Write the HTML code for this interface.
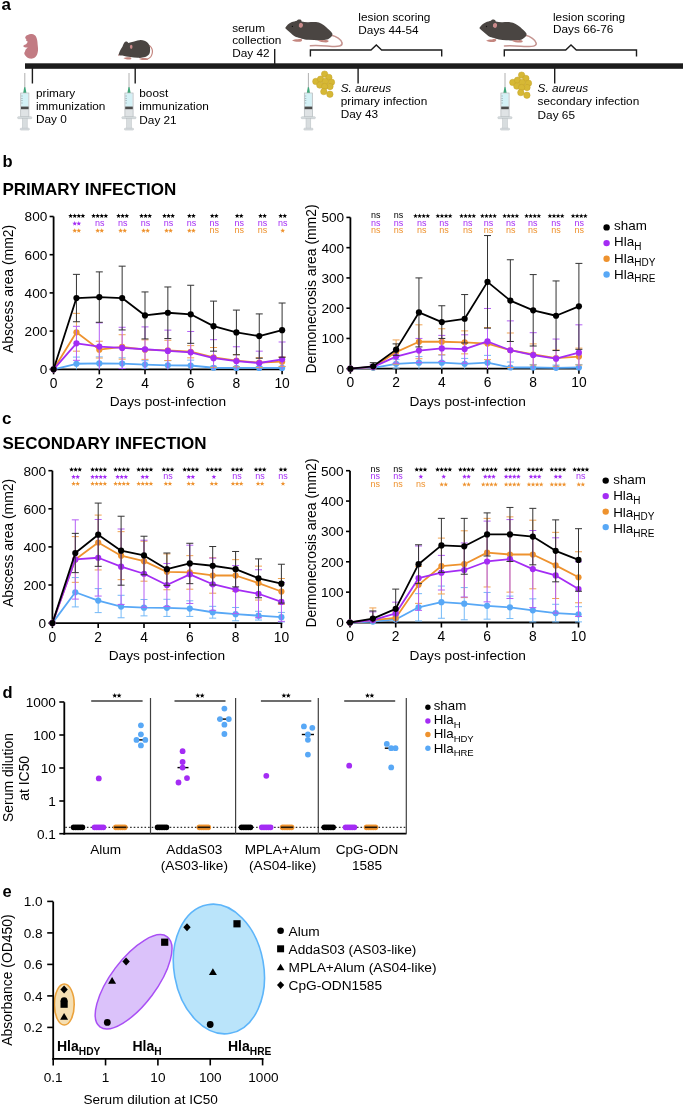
<!DOCTYPE html>
<html><head><meta charset="utf-8"><style>
html,body{margin:0;padding:0;background:#fff;}
body{width:685px;height:1106px;overflow:hidden;}
svg{display:block;font-family:"Liberation Sans", sans-serif;will-change:transform;}
</style></head><body>
<svg width="685" height="1106" viewBox="0 0 685 1106">
<rect width="685" height="1106" fill="#fff"/>
<text x="1.60" y="10.30" font-size="17" text-anchor="start" font-weight="bold" fill="#000" >a</text>
<rect x="25" y="63.3" width="658" height="5.5" fill="#1c1c1c"/>
<line x1="32.40" y1="68.00" x2="32.40" y2="83.50" stroke="#1c1c1c" stroke-width="1.4" />
<line x1="135.20" y1="68.00" x2="135.20" y2="83.50" stroke="#1c1c1c" stroke-width="1.4" />
<line x1="358.10" y1="68.00" x2="358.10" y2="83.50" stroke="#1c1c1c" stroke-width="1.4" />
<line x1="554.70" y1="68.00" x2="554.70" y2="83.50" stroke="#1c1c1c" stroke-width="1.4" />
<line x1="274.70" y1="49.00" x2="274.70" y2="64.00" stroke="#1c1c1c" stroke-width="1.4" />
<polyline points="310.4,56.6 310.4,50 371.0,50 376.3,45 381.6,50 441.7,50 441.7,56.6" fill="none" stroke="#1c1c1c" stroke-width="1.4"/>
<polyline points="504.3,56.6 504.3,50 565.7,50 571.0,45 576.3,50 636.5,50 636.5,56.6" fill="none" stroke="#1c1c1c" stroke-width="1.4"/>
<text x="35.90" y="96.60" font-size="11.8" text-anchor="start" font-weight="normal" fill="#000" >primary</text>
<text x="35.90" y="109.70" font-size="11.8" text-anchor="start" font-weight="normal" fill="#000" >immunization</text>
<text x="35.90" y="122.80" font-size="11.8" text-anchor="start" font-weight="normal" fill="#000" >Day 0</text>
<text x="139.30" y="97.00" font-size="11.8" text-anchor="start" font-weight="normal" fill="#000" >boost</text>
<text x="139.30" y="110.25" font-size="11.8" text-anchor="start" font-weight="normal" fill="#000" >immunization</text>
<text x="139.30" y="123.50" font-size="11.8" text-anchor="start" font-weight="normal" fill="#000" >Day 21</text>
<text x="232.20" y="31.50" font-size="11.8" text-anchor="start" font-weight="normal" fill="#000" >serum</text>
<text x="232.20" y="44.40" font-size="11.8" text-anchor="start" font-weight="normal" fill="#000" >collection</text>
<text x="232.20" y="57.30" font-size="11.8" text-anchor="start" font-weight="normal" fill="#000" >Day 42</text>
<text x="358.30" y="21.00" font-size="11.8" text-anchor="start" font-weight="normal" fill="#000" >lesion scoring</text>
<text x="358.30" y="33.60" font-size="11.8" text-anchor="start" font-weight="normal" fill="#000" >Days 44-54</text>
<text x="553.00" y="20.50" font-size="11.8" text-anchor="start" font-weight="normal" fill="#000" >lesion scoring</text>
<text x="553.00" y="33.10" font-size="11.8" text-anchor="start" font-weight="normal" fill="#000" >Days 66-76</text>
<text x="340.7" y="91.5" font-size="11.8" font-style="italic">S. aureus</text>
<text x="340.70" y="104.80" font-size="11.8" text-anchor="start" font-weight="normal" fill="#000" >primary infection</text>
<text x="340.70" y="118.00" font-size="11.8" text-anchor="start" font-weight="normal" fill="#000" >Day 43</text>
<text x="537.6" y="92" font-size="11.8" font-style="italic">S. aureus</text>
<text x="537.60" y="105.30" font-size="11.8" text-anchor="start" font-weight="normal" fill="#000" >secondary infection</text>
<text x="537.60" y="118.50" font-size="11.8" text-anchor="start" font-weight="normal" fill="#000" >Day 65</text>
<g transform="translate(24.80,73.00)"><line x1="0" y1="0" x2="0" y2="15" stroke="#b0b0b0" stroke-width="1"/><path d="M-1.6,20 L-0.6,14.2 L0.6,14.2 L1.6,20 Z" fill="#3fa77a"/><rect x="-4.1" y="20" width="8.2" height="23.9" fill="#dfe3e5" stroke="#b3b9bc" stroke-width="0.7"/><rect x="-3.4" y="20.6" width="6.8" height="13" fill="#d4f1f6"/><rect x="-3.8" y="33.6" width="7.6" height="2.6" fill="#4c4c4c"/><path d="M-3.6,23 h1.5 M-3.6,25.5 h1.5 M-3.6,27.5 h1.5 M-3.6,30 h1.5" stroke="#7a8a8e" stroke-width="0.5"/><rect x="-7.2" y="43.7" width="14.2" height="2" rx="0.8" fill="#d8dddf" stroke="#b9bfc2" stroke-width="0.5"/><rect x="-2.4" y="45.6" width="4.8" height="10.4" fill="#d8dddf" stroke="#b9bfc2" stroke-width="0.5"/><rect x="-4.6" y="55.2" width="9.2" height="1.9" rx="0.8" fill="#d8dddf" stroke="#b9bfc2" stroke-width="0.5"/></g>
<g transform="translate(129.00,73.00)"><line x1="0" y1="0" x2="0" y2="15" stroke="#b0b0b0" stroke-width="1"/><path d="M-1.6,20 L-0.6,14.2 L0.6,14.2 L1.6,20 Z" fill="#3fa77a"/><rect x="-4.1" y="20" width="8.2" height="23.9" fill="#dfe3e5" stroke="#b3b9bc" stroke-width="0.7"/><rect x="-3.4" y="20.6" width="6.8" height="13" fill="#d4f1f6"/><rect x="-3.8" y="33.6" width="7.6" height="2.6" fill="#4c4c4c"/><path d="M-3.6,23 h1.5 M-3.6,25.5 h1.5 M-3.6,27.5 h1.5 M-3.6,30 h1.5" stroke="#7a8a8e" stroke-width="0.5"/><rect x="-7.2" y="43.7" width="14.2" height="2" rx="0.8" fill="#d8dddf" stroke="#b9bfc2" stroke-width="0.5"/><rect x="-2.4" y="45.6" width="4.8" height="10.4" fill="#d8dddf" stroke="#b9bfc2" stroke-width="0.5"/><rect x="-4.6" y="55.2" width="9.2" height="1.9" rx="0.8" fill="#d8dddf" stroke="#b9bfc2" stroke-width="0.5"/></g>
<g transform="translate(308.40,73.00)"><line x1="0" y1="0" x2="0" y2="15" stroke="#b0b0b0" stroke-width="1"/><path d="M-1.6,20 L-0.6,14.2 L0.6,14.2 L1.6,20 Z" fill="#3fa77a"/><rect x="-4.1" y="20" width="8.2" height="23.9" fill="#dfe3e5" stroke="#b3b9bc" stroke-width="0.7"/><rect x="-3.4" y="20.6" width="6.8" height="13" fill="#d4f1f6"/><rect x="-3.8" y="33.6" width="7.6" height="2.6" fill="#4c4c4c"/><path d="M-3.6,23 h1.5 M-3.6,25.5 h1.5 M-3.6,27.5 h1.5 M-3.6,30 h1.5" stroke="#7a8a8e" stroke-width="0.5"/><rect x="-7.2" y="43.7" width="14.2" height="2" rx="0.8" fill="#d8dddf" stroke="#b9bfc2" stroke-width="0.5"/><rect x="-2.4" y="45.6" width="4.8" height="10.4" fill="#d8dddf" stroke="#b9bfc2" stroke-width="0.5"/><rect x="-4.6" y="55.2" width="9.2" height="1.9" rx="0.8" fill="#d8dddf" stroke="#b9bfc2" stroke-width="0.5"/></g>
<g transform="translate(505.00,73.00)"><line x1="0" y1="0" x2="0" y2="15" stroke="#b0b0b0" stroke-width="1"/><path d="M-1.6,20 L-0.6,14.2 L0.6,14.2 L1.6,20 Z" fill="#3fa77a"/><rect x="-4.1" y="20" width="8.2" height="23.9" fill="#dfe3e5" stroke="#b3b9bc" stroke-width="0.7"/><rect x="-3.4" y="20.6" width="6.8" height="13" fill="#d4f1f6"/><rect x="-3.8" y="33.6" width="7.6" height="2.6" fill="#4c4c4c"/><path d="M-3.6,23 h1.5 M-3.6,25.5 h1.5 M-3.6,27.5 h1.5 M-3.6,30 h1.5" stroke="#7a8a8e" stroke-width="0.5"/><rect x="-7.2" y="43.7" width="14.2" height="2" rx="0.8" fill="#d8dddf" stroke="#b9bfc2" stroke-width="0.5"/><rect x="-2.4" y="45.6" width="4.8" height="10.4" fill="#d8dddf" stroke="#b9bfc2" stroke-width="0.5"/><rect x="-4.6" y="55.2" width="9.2" height="1.9" rx="0.8" fill="#d8dddf" stroke="#b9bfc2" stroke-width="0.5"/></g>
<g transform="translate(0.00,0.00)"><circle cx="315.8" cy="81.4" r="3.2" fill="#d6b835" stroke="#c4a22a" stroke-width="0.5"/><circle cx="320.5" cy="79.2" r="3.2" fill="#d6b835" stroke="#c4a22a" stroke-width="0.5"/><circle cx="324.6" cy="74.1" r="3.2" fill="#d6b835" stroke="#c4a22a" stroke-width="0.5"/><circle cx="328.9" cy="77.4" r="3.2" fill="#d6b835" stroke="#c4a22a" stroke-width="0.5"/><circle cx="331.5" cy="82.2" r="3.2" fill="#d6b835" stroke="#c4a22a" stroke-width="0.5"/><circle cx="319.8" cy="85.1" r="3.2" fill="#d6b835" stroke="#c4a22a" stroke-width="0.5"/><circle cx="325.3" cy="81.4" r="3.2" fill="#d6b835" stroke="#c4a22a" stroke-width="0.5"/><circle cx="330.0" cy="86.5" r="3.2" fill="#d6b835" stroke="#c4a22a" stroke-width="0.5"/><circle cx="324.6" cy="86.5" r="3.2" fill="#d6b835" stroke="#c4a22a" stroke-width="0.5"/><circle cx="323.8" cy="91.6" r="3.2" fill="#d6b835" stroke="#c4a22a" stroke-width="0.5"/><circle cx="329.9" cy="94.2" r="3.2" fill="#d6b835" stroke="#c4a22a" stroke-width="0.5"/></g>
<g transform="translate(197.00,1.00)"><circle cx="315.8" cy="81.4" r="3.2" fill="#d6b835" stroke="#c4a22a" stroke-width="0.5"/><circle cx="320.5" cy="79.2" r="3.2" fill="#d6b835" stroke="#c4a22a" stroke-width="0.5"/><circle cx="324.6" cy="74.1" r="3.2" fill="#d6b835" stroke="#c4a22a" stroke-width="0.5"/><circle cx="328.9" cy="77.4" r="3.2" fill="#d6b835" stroke="#c4a22a" stroke-width="0.5"/><circle cx="331.5" cy="82.2" r="3.2" fill="#d6b835" stroke="#c4a22a" stroke-width="0.5"/><circle cx="319.8" cy="85.1" r="3.2" fill="#d6b835" stroke="#c4a22a" stroke-width="0.5"/><circle cx="325.3" cy="81.4" r="3.2" fill="#d6b835" stroke="#c4a22a" stroke-width="0.5"/><circle cx="330.0" cy="86.5" r="3.2" fill="#d6b835" stroke="#c4a22a" stroke-width="0.5"/><circle cx="324.6" cy="86.5" r="3.2" fill="#d6b835" stroke="#c4a22a" stroke-width="0.5"/><circle cx="323.8" cy="91.6" r="3.2" fill="#d6b835" stroke="#c4a22a" stroke-width="0.5"/><circle cx="329.9" cy="94.2" r="3.2" fill="#d6b835" stroke="#c4a22a" stroke-width="0.5"/></g>
<path d="M25.2,37.4 C25.6,36 26.6,35.2 27.8,34.9 C29,34.2 30.5,33.9 31.8,34.1 C33.8,34.4 35.5,35.4 36.2,36.9 C37.2,39 37.5,41.5 37.6,44 C37.8,46.5 38.2,48.5 38,50.5 C37.8,53 37,55.5 35.4,57.1 C33.8,58.6 31.5,59 29.6,58.6 C27.5,58.2 25.5,56.5 24.6,54.6 C24.1,53.5 24.3,52.5 24.9,51.8 C25.3,51 25.2,50.3 25.5,49.8 C26.2,49 27.2,48.3 27.8,47.6 C26.5,47.5 25,47.4 23.9,46.9 C23.3,46.6 23.2,45.9 23.6,45.5 C24.2,44.9 25.2,44.5 26.1,44.3 C26.8,43.6 27.3,42.6 27.8,41.8 C27,41.3 26.2,40.8 26,40.3 C26.1,39.8 26.5,39.4 26.3,39 C25.7,38.6 25.1,38.1 25.2,37.4 Z" fill="#c27b83"/>
<g><path d="M149.6,45.6 C151.8,47.5 152.8,50.5 152.3,53 C151.8,55.8 150.5,57.8 148,58.8" fill="none" stroke="#c4867f" stroke-width="1.2" stroke-linecap="round"/><path d="M118.4,55.2 C119.2,52.5 120.6,49.2 122.4,46.8 C123,45.2 123.5,43.8 124.2,42.8 C124.8,41.8 125.8,41.4 126.6,41.6 C127.4,41.8 128,42.4 128.2,43.1 C130,42.5 132,41.9 134.1,41.5 C136.5,40.8 138.5,40.2 140.7,40.1 C143.5,40.1 145.8,41 147.4,42.5 C149,44 149.9,45.8 150,47.5 C150.2,49.5 150.2,51.2 149.8,52.8 C149.2,54.8 147.5,56.3 145.2,57.1 C142.8,57.9 140.2,58 137.7,57.8 C135.2,57.7 132.6,57.4 130.4,57.1 C127.5,56.8 124.8,56.3 122.4,55.6 C121,55.4 119.5,55.4 118.4,55.2 Z" fill="#4a4542"/><path d="M123.5,58.3 C125,57.3 128,57 130,57.3 C131.3,57.6 131.8,58.5 131,59.2 C129.5,59.8 126,59.7 123.5,58.3 Z M139,58.9 C141,58 144.5,57.9 147,58.3 C148.3,58.6 148.5,59.5 147.5,59.9 C145,60.3 141.5,60 139,58.9 Z" fill="#c4867f"/><ellipse cx="131.2" cy="46.8" rx="1.3" ry="2.1" fill="#c98a8a"/><circle cx="118.7" cy="55.1" r="0.7" fill="#c98a8a"/></g>
<g transform="translate(0.00,0.00)"><path d="M331.5,35.2 C336,36.2 341.5,39.5 342.1,43 C342.5,46.2 338,46.8 332,46.4 C325,46 317,45 310.4,45.8" fill="none" stroke="#c59490" stroke-width="1.5" stroke-linecap="round"/><path d="M285.2,28 C286.5,25.5 289,23.3 291.4,22.3 C293.5,21.5 295.5,21.2 296.8,20.7 C297.5,19.6 299,19.2 300.2,19.6 C301.2,20 301.6,20.8 301.6,21.5 C304,22 306,22.3 308.5,22.2 C311,22 313.5,21.9 316,22.1 C320,22.5 323.5,24.5 326,27 C328.5,29.3 331,31.5 332.2,33.2 C332.8,34.5 332.2,36 331,37 C330,38.2 328.5,39.2 327,39.6 C325,40.2 322.5,40.5 319.8,40.4 C316,40.3 312,40 308.5,39.8 C306,39.6 303.5,39.2 301.8,38.7 C299.5,37.8 297.5,37.4 296,37 C293.5,35.6 291.3,33.5 289.5,31.9 C288,30.8 286.2,29.5 285.2,28 Z" fill="#4a4542"/><path d="M292,40.6 C293.5,39.6 296,39.2 298,39.3 C299.5,38.4 301,38.5 302,39.4 C302.5,40.6 301.5,41.6 300,41.8 C297.5,42 294,41.8 292,40.6 Z M317.5,40.6 C319.5,39.9 322,40 324,40.3 C325.5,39.8 327.5,39.8 328.6,40.8 C328.8,42 327.5,42.4 326,42.4 C323,42.4 319.5,42 317.5,40.6 Z" fill="#c4867f"/><ellipse cx="300.9" cy="25.3" rx="2.1" ry="2.5" fill="#c98a8a" transform="rotate(15 300.9 25.3)"/><circle cx="292.4" cy="26.4" r="0.65" fill="#111"/></g>
<g transform="translate(194.10,0.10)"><path d="M331.5,35.2 C336,36.2 341.5,39.5 342.1,43 C342.5,46.2 338,46.8 332,46.4 C325,46 317,45 310.4,45.8" fill="none" stroke="#c59490" stroke-width="1.5" stroke-linecap="round"/><path d="M285.2,28 C286.5,25.5 289,23.3 291.4,22.3 C293.5,21.5 295.5,21.2 296.8,20.7 C297.5,19.6 299,19.2 300.2,19.6 C301.2,20 301.6,20.8 301.6,21.5 C304,22 306,22.3 308.5,22.2 C311,22 313.5,21.9 316,22.1 C320,22.5 323.5,24.5 326,27 C328.5,29.3 331,31.5 332.2,33.2 C332.8,34.5 332.2,36 331,37 C330,38.2 328.5,39.2 327,39.6 C325,40.2 322.5,40.5 319.8,40.4 C316,40.3 312,40 308.5,39.8 C306,39.6 303.5,39.2 301.8,38.7 C299.5,37.8 297.5,37.4 296,37 C293.5,35.6 291.3,33.5 289.5,31.9 C288,30.8 286.2,29.5 285.2,28 Z" fill="#4a4542"/><path d="M292,40.6 C293.5,39.6 296,39.2 298,39.3 C299.5,38.4 301,38.5 302,39.4 C302.5,40.6 301.5,41.6 300,41.8 C297.5,42 294,41.8 292,40.6 Z M317.5,40.6 C319.5,39.9 322,40 324,40.3 C325.5,39.8 327.5,39.8 328.6,40.8 C328.8,42 327.5,42.4 326,42.4 C323,42.4 319.5,42 317.5,40.6 Z" fill="#c4867f"/><ellipse cx="300.9" cy="25.3" rx="2.1" ry="2.5" fill="#c98a8a" transform="rotate(15 300.9 25.3)"/><circle cx="292.4" cy="26.4" r="0.65" fill="#111"/></g>
<text x="2.50" y="166.50" font-size="16.5" text-anchor="start" font-weight="bold" fill="#000" >b</text>
<text x="2.50" y="194.60" font-size="17" text-anchor="start" font-weight="bold" fill="#000" >PRIMARY INFECTION</text>
<line x1="53.60" y1="216.50" x2="53.60" y2="370.20" stroke="#000" stroke-width="1.8" />
<line x1="49.60" y1="369.30" x2="53.60" y2="369.30" stroke="#000" stroke-width="1.6" />
<text x="47.30" y="374.20" font-size="13.6" text-anchor="end" font-weight="normal" fill="#000" >0</text>
<line x1="49.60" y1="331.10" x2="53.60" y2="331.10" stroke="#000" stroke-width="1.6" />
<text x="47.30" y="336.00" font-size="13.6" text-anchor="end" font-weight="normal" fill="#000" >200</text>
<line x1="49.60" y1="292.90" x2="53.60" y2="292.90" stroke="#000" stroke-width="1.6" />
<text x="47.30" y="297.80" font-size="13.6" text-anchor="end" font-weight="normal" fill="#000" >400</text>
<line x1="49.60" y1="254.70" x2="53.60" y2="254.70" stroke="#000" stroke-width="1.6" />
<text x="47.30" y="259.60" font-size="13.6" text-anchor="end" font-weight="normal" fill="#000" >600</text>
<line x1="49.60" y1="216.50" x2="53.60" y2="216.50" stroke="#000" stroke-width="1.6" />
<text x="47.30" y="221.40" font-size="13.6" text-anchor="end" font-weight="normal" fill="#000" >800</text>
<line x1="52.70" y1="369.30" x2="283.00" y2="369.30" stroke="#000" stroke-width="1.8" />
<line x1="53.60" y1="369.30" x2="53.60" y2="374.30" stroke="#000" stroke-width="1.6" />
<text x="53.60" y="387.90" font-size="13.8" text-anchor="middle" font-weight="normal" fill="#000" >0</text>
<line x1="99.30" y1="369.30" x2="99.30" y2="374.30" stroke="#000" stroke-width="1.6" />
<text x="99.30" y="387.90" font-size="13.8" text-anchor="middle" font-weight="normal" fill="#000" >2</text>
<line x1="145.00" y1="369.30" x2="145.00" y2="374.30" stroke="#000" stroke-width="1.6" />
<text x="145.00" y="387.90" font-size="13.8" text-anchor="middle" font-weight="normal" fill="#000" >4</text>
<line x1="190.70" y1="369.30" x2="190.70" y2="374.30" stroke="#000" stroke-width="1.6" />
<text x="190.70" y="387.90" font-size="13.8" text-anchor="middle" font-weight="normal" fill="#000" >6</text>
<line x1="236.40" y1="369.30" x2="236.40" y2="374.30" stroke="#000" stroke-width="1.6" />
<text x="236.40" y="387.90" font-size="13.8" text-anchor="middle" font-weight="normal" fill="#000" >8</text>
<line x1="282.10" y1="369.30" x2="282.10" y2="374.30" stroke="#000" stroke-width="1.6" />
<text x="282.10" y="387.90" font-size="13.8" text-anchor="middle" font-weight="normal" fill="#000" >10</text>
<text x="167.85" y="405.60" font-size="13.7" text-anchor="middle" font-weight="normal" fill="#000" >Days post-infection</text>
<text transform="translate(13.40,289.00) rotate(-90)" font-size="13.9" text-anchor="middle">Abscess area (mm2)</text>
<line x1="76.45" y1="357.08" x2="76.45" y2="369.30" stroke="#74B9F7" stroke-width="1" stroke-opacity="1"/>
<line x1="72.95" y1="357.08" x2="79.95" y2="357.08" stroke="#74B9F7" stroke-width="1" stroke-opacity="1"/>
<line x1="99.30" y1="356.88" x2="99.30" y2="369.30" stroke="#74B9F7" stroke-width="1" stroke-opacity="1"/>
<line x1="95.80" y1="356.88" x2="102.80" y2="356.88" stroke="#74B9F7" stroke-width="1" stroke-opacity="1"/>
<line x1="122.15" y1="357.84" x2="122.15" y2="369.30" stroke="#74B9F7" stroke-width="1" stroke-opacity="1"/>
<line x1="118.65" y1="357.84" x2="125.65" y2="357.84" stroke="#74B9F7" stroke-width="1" stroke-opacity="1"/>
<line x1="145.00" y1="360.70" x2="145.00" y2="368.35" stroke="#74B9F7" stroke-width="1" stroke-opacity="1"/>
<line x1="141.50" y1="360.70" x2="148.50" y2="360.70" stroke="#74B9F7" stroke-width="1" stroke-opacity="1"/>
<line x1="141.50" y1="368.35" x2="148.50" y2="368.35" stroke="#74B9F7" stroke-width="1" stroke-opacity="1"/>
<line x1="167.85" y1="360.70" x2="167.85" y2="369.30" stroke="#74B9F7" stroke-width="1" stroke-opacity="1"/>
<line x1="164.35" y1="360.70" x2="171.35" y2="360.70" stroke="#74B9F7" stroke-width="1" stroke-opacity="1"/>
<line x1="190.70" y1="360.13" x2="190.70" y2="369.30" stroke="#74B9F7" stroke-width="1" stroke-opacity="1"/>
<line x1="187.20" y1="360.13" x2="194.20" y2="360.13" stroke="#74B9F7" stroke-width="1" stroke-opacity="1"/>
<line x1="213.55" y1="366.24" x2="213.55" y2="369.30" stroke="#74B9F7" stroke-width="1" stroke-opacity="1"/>
<line x1="210.05" y1="366.24" x2="217.05" y2="366.24" stroke="#74B9F7" stroke-width="1" stroke-opacity="1"/>
<line x1="236.40" y1="366.63" x2="236.40" y2="369.30" stroke="#74B9F7" stroke-width="1" stroke-opacity="1"/>
<line x1="232.90" y1="366.63" x2="239.90" y2="366.63" stroke="#74B9F7" stroke-width="1" stroke-opacity="1"/>
<line x1="259.25" y1="366.63" x2="259.25" y2="369.30" stroke="#74B9F7" stroke-width="1" stroke-opacity="1"/>
<line x1="255.75" y1="366.63" x2="262.75" y2="366.63" stroke="#74B9F7" stroke-width="1" stroke-opacity="1"/>
<line x1="282.10" y1="366.63" x2="282.10" y2="369.30" stroke="#74B9F7" stroke-width="1" stroke-opacity="1"/>
<line x1="278.60" y1="366.63" x2="285.60" y2="366.63" stroke="#74B9F7" stroke-width="1" stroke-opacity="1"/>
<polyline points="53.60,369.30 76.45,363.76 99.30,363.38 122.15,363.57 145.00,364.53 167.85,365.29 190.70,365.48 213.55,367.77 236.40,367.96 259.25,367.96 282.10,367.96" fill="none" stroke="#58A8F6" stroke-width="1.8" stroke-linejoin="round"/>
<circle cx="53.60" cy="369.30" r="3.1" fill="#58A8F6"/>
<circle cx="76.45" cy="363.76" r="3.1" fill="#58A8F6"/>
<circle cx="99.30" cy="363.38" r="3.1" fill="#58A8F6"/>
<circle cx="122.15" cy="363.57" r="3.1" fill="#58A8F6"/>
<circle cx="145.00" cy="364.53" r="3.1" fill="#58A8F6"/>
<circle cx="167.85" cy="365.29" r="3.1" fill="#58A8F6"/>
<circle cx="190.70" cy="365.48" r="3.1" fill="#58A8F6"/>
<circle cx="213.55" cy="367.77" r="3.1" fill="#58A8F6"/>
<circle cx="236.40" cy="367.96" r="3.1" fill="#58A8F6"/>
<circle cx="259.25" cy="367.96" r="3.1" fill="#58A8F6"/>
<circle cx="282.10" cy="367.96" r="3.1" fill="#58A8F6"/>
<line x1="76.45" y1="313.34" x2="76.45" y2="351.16" stroke="#F0A352" stroke-width="1" stroke-opacity="1"/>
<line x1="72.95" y1="313.34" x2="79.95" y2="313.34" stroke="#F0A352" stroke-width="1" stroke-opacity="1"/>
<line x1="72.95" y1="351.16" x2="79.95" y2="351.16" stroke="#F0A352" stroke-width="1" stroke-opacity="1"/>
<line x1="99.30" y1="341.22" x2="99.30" y2="358.03" stroke="#F0A352" stroke-width="1" stroke-opacity="1"/>
<line x1="95.80" y1="341.22" x2="102.80" y2="341.22" stroke="#F0A352" stroke-width="1" stroke-opacity="1"/>
<line x1="95.80" y1="358.03" x2="102.80" y2="358.03" stroke="#F0A352" stroke-width="1" stroke-opacity="1"/>
<line x1="122.15" y1="334.73" x2="122.15" y2="359.18" stroke="#F0A352" stroke-width="1" stroke-opacity="1"/>
<line x1="118.65" y1="334.73" x2="125.65" y2="334.73" stroke="#F0A352" stroke-width="1" stroke-opacity="1"/>
<line x1="118.65" y1="359.18" x2="125.65" y2="359.18" stroke="#F0A352" stroke-width="1" stroke-opacity="1"/>
<line x1="145.00" y1="339.89" x2="145.00" y2="359.37" stroke="#F0A352" stroke-width="1" stroke-opacity="1"/>
<line x1="141.50" y1="339.89" x2="148.50" y2="339.89" stroke="#F0A352" stroke-width="1" stroke-opacity="1"/>
<line x1="141.50" y1="359.37" x2="148.50" y2="359.37" stroke="#F0A352" stroke-width="1" stroke-opacity="1"/>
<line x1="167.85" y1="340.27" x2="167.85" y2="360.51" stroke="#F0A352" stroke-width="1" stroke-opacity="1"/>
<line x1="164.35" y1="340.27" x2="171.35" y2="340.27" stroke="#F0A352" stroke-width="1" stroke-opacity="1"/>
<line x1="164.35" y1="360.51" x2="171.35" y2="360.51" stroke="#F0A352" stroke-width="1" stroke-opacity="1"/>
<line x1="190.70" y1="345.62" x2="190.70" y2="357.84" stroke="#F0A352" stroke-width="1" stroke-opacity="1"/>
<line x1="187.20" y1="345.62" x2="194.20" y2="345.62" stroke="#F0A352" stroke-width="1" stroke-opacity="1"/>
<line x1="187.20" y1="357.84" x2="194.20" y2="357.84" stroke="#F0A352" stroke-width="1" stroke-opacity="1"/>
<line x1="213.55" y1="347.53" x2="213.55" y2="367.39" stroke="#F0A352" stroke-width="1" stroke-opacity="1"/>
<line x1="210.05" y1="347.53" x2="217.05" y2="347.53" stroke="#F0A352" stroke-width="1" stroke-opacity="1"/>
<line x1="210.05" y1="367.39" x2="217.05" y2="367.39" stroke="#F0A352" stroke-width="1" stroke-opacity="1"/>
<line x1="236.40" y1="354.59" x2="236.40" y2="366.82" stroke="#F0A352" stroke-width="1" stroke-opacity="1"/>
<line x1="232.90" y1="354.59" x2="239.90" y2="354.59" stroke="#F0A352" stroke-width="1" stroke-opacity="1"/>
<line x1="232.90" y1="366.82" x2="239.90" y2="366.82" stroke="#F0A352" stroke-width="1" stroke-opacity="1"/>
<line x1="259.25" y1="357.65" x2="259.25" y2="367.58" stroke="#F0A352" stroke-width="1" stroke-opacity="1"/>
<line x1="255.75" y1="357.65" x2="262.75" y2="357.65" stroke="#F0A352" stroke-width="1" stroke-opacity="1"/>
<line x1="255.75" y1="367.58" x2="262.75" y2="367.58" stroke="#F0A352" stroke-width="1" stroke-opacity="1"/>
<line x1="282.10" y1="356.88" x2="282.10" y2="366.44" stroke="#F0A352" stroke-width="1" stroke-opacity="1"/>
<line x1="278.60" y1="356.88" x2="285.60" y2="356.88" stroke="#F0A352" stroke-width="1" stroke-opacity="1"/>
<line x1="278.60" y1="366.44" x2="285.60" y2="366.44" stroke="#F0A352" stroke-width="1" stroke-opacity="1"/>
<polyline points="53.60,369.30 76.45,332.25 99.30,349.63 122.15,346.95 145.00,349.63 167.85,350.39 190.70,351.73 213.55,357.46 236.40,360.70 259.25,362.62 282.10,361.66" fill="none" stroke="#EE922E" stroke-width="1.8" stroke-linejoin="round"/>
<circle cx="53.60" cy="369.30" r="3.1" fill="#EE922E"/>
<circle cx="76.45" cy="332.25" r="3.1" fill="#EE922E"/>
<circle cx="99.30" cy="349.63" r="3.1" fill="#EE922E"/>
<circle cx="122.15" cy="346.95" r="3.1" fill="#EE922E"/>
<circle cx="145.00" cy="349.63" r="3.1" fill="#EE922E"/>
<circle cx="167.85" cy="350.39" r="3.1" fill="#EE922E"/>
<circle cx="190.70" cy="351.73" r="3.1" fill="#EE922E"/>
<circle cx="213.55" cy="357.46" r="3.1" fill="#EE922E"/>
<circle cx="236.40" cy="360.70" r="3.1" fill="#EE922E"/>
<circle cx="259.25" cy="362.62" r="3.1" fill="#EE922E"/>
<circle cx="282.10" cy="361.66" r="3.1" fill="#EE922E"/>
<line x1="76.45" y1="326.32" x2="76.45" y2="360.32" stroke="#B45EF5" stroke-width="1" stroke-opacity="1"/>
<line x1="72.95" y1="326.32" x2="79.95" y2="326.32" stroke="#B45EF5" stroke-width="1" stroke-opacity="1"/>
<line x1="72.95" y1="360.32" x2="79.95" y2="360.32" stroke="#B45EF5" stroke-width="1" stroke-opacity="1"/>
<line x1="99.30" y1="322.89" x2="99.30" y2="369.30" stroke="#B45EF5" stroke-width="1" stroke-opacity="1"/>
<line x1="95.80" y1="322.89" x2="102.80" y2="322.89" stroke="#B45EF5" stroke-width="1" stroke-opacity="1"/>
<line x1="122.15" y1="327.28" x2="122.15" y2="368.54" stroke="#B45EF5" stroke-width="1" stroke-opacity="1"/>
<line x1="118.65" y1="327.28" x2="125.65" y2="327.28" stroke="#B45EF5" stroke-width="1" stroke-opacity="1"/>
<line x1="118.65" y1="368.54" x2="125.65" y2="368.54" stroke="#B45EF5" stroke-width="1" stroke-opacity="1"/>
<line x1="145.00" y1="326.90" x2="145.00" y2="369.30" stroke="#B45EF5" stroke-width="1" stroke-opacity="1"/>
<line x1="141.50" y1="326.90" x2="148.50" y2="326.90" stroke="#B45EF5" stroke-width="1" stroke-opacity="1"/>
<line x1="167.85" y1="330.14" x2="167.85" y2="369.30" stroke="#B45EF5" stroke-width="1" stroke-opacity="1"/>
<line x1="164.35" y1="330.14" x2="171.35" y2="330.14" stroke="#B45EF5" stroke-width="1" stroke-opacity="1"/>
<line x1="190.70" y1="331.48" x2="190.70" y2="369.30" stroke="#B45EF5" stroke-width="1" stroke-opacity="1"/>
<line x1="187.20" y1="331.48" x2="194.20" y2="331.48" stroke="#B45EF5" stroke-width="1" stroke-opacity="1"/>
<line x1="213.55" y1="339.69" x2="213.55" y2="369.30" stroke="#B45EF5" stroke-width="1" stroke-opacity="1"/>
<line x1="210.05" y1="339.69" x2="217.05" y2="339.69" stroke="#B45EF5" stroke-width="1" stroke-opacity="1"/>
<line x1="236.40" y1="346.76" x2="236.40" y2="369.30" stroke="#B45EF5" stroke-width="1" stroke-opacity="1"/>
<line x1="232.90" y1="346.76" x2="239.90" y2="346.76" stroke="#B45EF5" stroke-width="1" stroke-opacity="1"/>
<line x1="259.25" y1="351.16" x2="259.25" y2="369.30" stroke="#B45EF5" stroke-width="1" stroke-opacity="1"/>
<line x1="255.75" y1="351.16" x2="262.75" y2="351.16" stroke="#B45EF5" stroke-width="1" stroke-opacity="1"/>
<line x1="282.10" y1="341.99" x2="282.10" y2="369.30" stroke="#B45EF5" stroke-width="1" stroke-opacity="1"/>
<line x1="278.60" y1="341.99" x2="285.60" y2="341.99" stroke="#B45EF5" stroke-width="1" stroke-opacity="1"/>
<polyline points="53.60,369.30 76.45,343.32 99.30,346.57 122.15,347.91 145.00,349.25 167.85,350.96 190.70,352.30 213.55,358.22 236.40,361.09 259.25,363.00 282.10,359.37" fill="none" stroke="#A42CF4" stroke-width="1.8" stroke-linejoin="round"/>
<circle cx="53.60" cy="369.30" r="3.1" fill="#A42CF4"/>
<circle cx="76.45" cy="343.32" r="3.1" fill="#A42CF4"/>
<circle cx="99.30" cy="346.57" r="3.1" fill="#A42CF4"/>
<circle cx="122.15" cy="347.91" r="3.1" fill="#A42CF4"/>
<circle cx="145.00" cy="349.25" r="3.1" fill="#A42CF4"/>
<circle cx="167.85" cy="350.96" r="3.1" fill="#A42CF4"/>
<circle cx="190.70" cy="352.30" r="3.1" fill="#A42CF4"/>
<circle cx="213.55" cy="358.22" r="3.1" fill="#A42CF4"/>
<circle cx="236.40" cy="361.09" r="3.1" fill="#A42CF4"/>
<circle cx="259.25" cy="363.00" r="3.1" fill="#A42CF4"/>
<circle cx="282.10" cy="359.37" r="3.1" fill="#A42CF4"/>
<line x1="76.45" y1="274.37" x2="76.45" y2="321.74" stroke="#333333" stroke-width="1" stroke-opacity="1"/>
<line x1="72.95" y1="274.37" x2="79.95" y2="274.37" stroke="#333333" stroke-width="1" stroke-opacity="1"/>
<line x1="72.95" y1="321.74" x2="79.95" y2="321.74" stroke="#333333" stroke-width="1" stroke-opacity="1"/>
<line x1="99.30" y1="271.89" x2="99.30" y2="322.31" stroke="#333333" stroke-width="1" stroke-opacity="1"/>
<line x1="95.80" y1="271.89" x2="102.80" y2="271.89" stroke="#333333" stroke-width="1" stroke-opacity="1"/>
<line x1="95.80" y1="322.31" x2="102.80" y2="322.31" stroke="#333333" stroke-width="1" stroke-opacity="1"/>
<line x1="122.15" y1="266.16" x2="122.15" y2="329.95" stroke="#333333" stroke-width="1" stroke-opacity="1"/>
<line x1="118.65" y1="266.16" x2="125.65" y2="266.16" stroke="#333333" stroke-width="1" stroke-opacity="1"/>
<line x1="118.65" y1="329.95" x2="125.65" y2="329.95" stroke="#333333" stroke-width="1" stroke-opacity="1"/>
<line x1="145.00" y1="291.94" x2="145.00" y2="338.93" stroke="#333333" stroke-width="1" stroke-opacity="1"/>
<line x1="141.50" y1="291.94" x2="148.50" y2="291.94" stroke="#333333" stroke-width="1" stroke-opacity="1"/>
<line x1="141.50" y1="338.93" x2="148.50" y2="338.93" stroke="#333333" stroke-width="1" stroke-opacity="1"/>
<line x1="167.85" y1="286.98" x2="167.85" y2="338.55" stroke="#333333" stroke-width="1" stroke-opacity="1"/>
<line x1="164.35" y1="286.98" x2="171.35" y2="286.98" stroke="#333333" stroke-width="1" stroke-opacity="1"/>
<line x1="164.35" y1="338.55" x2="171.35" y2="338.55" stroke="#333333" stroke-width="1" stroke-opacity="1"/>
<line x1="190.70" y1="285.26" x2="190.70" y2="343.32" stroke="#333333" stroke-width="1" stroke-opacity="1"/>
<line x1="187.20" y1="285.26" x2="194.20" y2="285.26" stroke="#333333" stroke-width="1" stroke-opacity="1"/>
<line x1="187.20" y1="343.32" x2="194.20" y2="343.32" stroke="#333333" stroke-width="1" stroke-opacity="1"/>
<line x1="213.55" y1="301.11" x2="213.55" y2="351.16" stroke="#333333" stroke-width="1" stroke-opacity="1"/>
<line x1="210.05" y1="301.11" x2="217.05" y2="301.11" stroke="#333333" stroke-width="1" stroke-opacity="1"/>
<line x1="210.05" y1="351.16" x2="217.05" y2="351.16" stroke="#333333" stroke-width="1" stroke-opacity="1"/>
<line x1="236.40" y1="310.09" x2="236.40" y2="354.78" stroke="#333333" stroke-width="1" stroke-opacity="1"/>
<line x1="232.90" y1="310.09" x2="239.90" y2="310.09" stroke="#333333" stroke-width="1" stroke-opacity="1"/>
<line x1="232.90" y1="354.78" x2="239.90" y2="354.78" stroke="#333333" stroke-width="1" stroke-opacity="1"/>
<line x1="259.25" y1="313.91" x2="259.25" y2="358.22" stroke="#333333" stroke-width="1" stroke-opacity="1"/>
<line x1="255.75" y1="313.91" x2="262.75" y2="313.91" stroke="#333333" stroke-width="1" stroke-opacity="1"/>
<line x1="255.75" y1="358.22" x2="262.75" y2="358.22" stroke="#333333" stroke-width="1" stroke-opacity="1"/>
<line x1="282.10" y1="303.02" x2="282.10" y2="357.27" stroke="#333333" stroke-width="1" stroke-opacity="1"/>
<line x1="278.60" y1="303.02" x2="285.60" y2="303.02" stroke="#333333" stroke-width="1" stroke-opacity="1"/>
<line x1="278.60" y1="357.27" x2="285.60" y2="357.27" stroke="#333333" stroke-width="1" stroke-opacity="1"/>
<polyline points="53.60,369.30 76.45,298.06 99.30,297.10 122.15,298.06 145.00,315.44 167.85,312.76 190.70,314.29 213.55,326.13 236.40,332.44 259.25,336.07 282.10,330.14" fill="none" stroke="#000000" stroke-width="1.8" stroke-linejoin="round"/>
<circle cx="53.60" cy="369.30" r="3.1" fill="#000000"/>
<circle cx="76.45" cy="298.06" r="3.1" fill="#000000"/>
<circle cx="99.30" cy="297.10" r="3.1" fill="#000000"/>
<circle cx="122.15" cy="298.06" r="3.1" fill="#000000"/>
<circle cx="145.00" cy="315.44" r="3.1" fill="#000000"/>
<circle cx="167.85" cy="312.76" r="3.1" fill="#000000"/>
<circle cx="190.70" cy="314.29" r="3.1" fill="#000000"/>
<circle cx="213.55" cy="326.13" r="3.1" fill="#000000"/>
<circle cx="236.40" cy="332.44" r="3.1" fill="#000000"/>
<circle cx="259.25" cy="336.07" r="3.1" fill="#000000"/>
<circle cx="282.10" cy="330.14" r="3.1" fill="#000000"/>
<polygon points="70.60,213.40 71.22,215.05 72.98,215.13 71.60,216.22 72.07,217.92 70.60,216.95 69.13,217.92 69.60,216.22 68.22,215.13 69.98,215.05" fill="#000000"/>
<polygon points="74.70,213.40 75.32,215.05 77.08,215.13 75.70,216.22 76.17,217.92 74.70,216.95 73.23,217.92 73.70,216.22 72.32,215.13 74.08,215.05" fill="#000000"/>
<polygon points="78.80,213.40 79.42,215.05 81.18,215.13 79.80,216.22 80.27,217.92 78.80,216.95 77.33,217.92 77.80,216.22 76.42,215.13 78.18,215.05" fill="#000000"/>
<polygon points="82.90,213.40 83.52,215.05 85.28,215.13 83.90,216.22 84.37,217.92 82.90,216.95 81.43,217.92 81.90,216.22 80.52,215.13 82.28,215.05" fill="#000000"/>
<polygon points="93.55,213.40 94.17,215.05 95.93,215.13 94.55,216.22 95.02,217.92 93.55,216.95 92.08,217.92 92.55,216.22 91.17,215.13 92.93,215.05" fill="#000000"/>
<polygon points="97.65,213.40 98.27,215.05 100.03,215.13 98.65,216.22 99.12,217.92 97.65,216.95 96.18,217.92 96.65,216.22 95.27,215.13 97.03,215.05" fill="#000000"/>
<polygon points="101.75,213.40 102.37,215.05 104.13,215.13 102.75,216.22 103.22,217.92 101.75,216.95 100.28,217.92 100.75,216.22 99.37,215.13 101.13,215.05" fill="#000000"/>
<polygon points="105.85,213.40 106.47,215.05 108.23,215.13 106.85,216.22 107.32,217.92 105.85,216.95 104.38,217.92 104.85,216.22 103.47,215.13 105.23,215.05" fill="#000000"/>
<polygon points="118.55,213.40 119.17,215.05 120.93,215.13 119.55,216.22 120.02,217.92 118.55,216.95 117.08,217.92 117.55,216.22 116.17,215.13 117.93,215.05" fill="#000000"/>
<polygon points="122.65,213.40 123.27,215.05 125.03,215.13 123.65,216.22 124.12,217.92 122.65,216.95 121.18,217.92 121.65,216.22 120.27,215.13 122.03,215.05" fill="#000000"/>
<polygon points="126.75,213.40 127.37,215.05 129.13,215.13 127.75,216.22 128.22,217.92 126.75,216.95 125.28,217.92 125.75,216.22 124.37,215.13 126.13,215.05" fill="#000000"/>
<polygon points="141.50,213.40 142.12,215.05 143.88,215.13 142.50,216.22 142.97,217.92 141.50,216.95 140.03,217.92 140.50,216.22 139.12,215.13 140.88,215.05" fill="#000000"/>
<polygon points="145.60,213.40 146.22,215.05 147.98,215.13 146.60,216.22 147.07,217.92 145.60,216.95 144.13,217.92 144.60,216.22 143.22,215.13 144.98,215.05" fill="#000000"/>
<polygon points="149.70,213.40 150.32,215.05 152.08,215.13 150.70,216.22 151.17,217.92 149.70,216.95 148.23,217.92 148.70,216.22 147.32,215.13 149.08,215.05" fill="#000000"/>
<polygon points="164.45,213.40 165.07,215.05 166.83,215.13 165.45,216.22 165.92,217.92 164.45,216.95 162.98,217.92 163.45,216.22 162.07,215.13 163.83,215.05" fill="#000000"/>
<polygon points="168.55,213.40 169.17,215.05 170.93,215.13 169.55,216.22 170.02,217.92 168.55,216.95 167.08,217.92 167.55,216.22 166.17,215.13 167.93,215.05" fill="#000000"/>
<polygon points="172.65,213.40 173.27,215.05 175.03,215.13 173.65,216.22 174.12,217.92 172.65,216.95 171.18,217.92 171.65,216.22 170.27,215.13 172.03,215.05" fill="#000000"/>
<polygon points="189.35,213.40 189.97,215.05 191.73,215.13 190.35,216.22 190.82,217.92 189.35,216.95 187.88,217.92 188.35,216.22 186.97,215.13 188.73,215.05" fill="#000000"/>
<polygon points="193.45,213.40 194.07,215.05 195.83,215.13 194.45,216.22 194.92,217.92 193.45,216.95 191.98,217.92 192.45,216.22 191.07,215.13 192.83,215.05" fill="#000000"/>
<polygon points="212.20,213.40 212.82,215.05 214.58,215.13 213.20,216.22 213.67,217.92 212.20,216.95 210.73,217.92 211.20,216.22 209.82,215.13 211.58,215.05" fill="#000000"/>
<polygon points="216.30,213.40 216.92,215.05 218.68,215.13 217.30,216.22 217.77,217.92 216.30,216.95 214.83,217.92 215.30,216.22 213.92,215.13 215.68,215.05" fill="#000000"/>
<polygon points="237.15,213.40 237.77,215.05 239.53,215.13 238.15,216.22 238.62,217.92 237.15,216.95 235.68,217.92 236.15,216.22 234.77,215.13 236.53,215.05" fill="#000000"/>
<polygon points="241.25,213.40 241.87,215.05 243.63,215.13 242.25,216.22 242.72,217.92 241.25,216.95 239.78,217.92 240.25,216.22 238.87,215.13 240.63,215.05" fill="#000000"/>
<polygon points="260.50,213.40 261.12,215.05 262.88,215.13 261.50,216.22 261.97,217.92 260.50,216.95 259.03,217.92 259.50,216.22 258.12,215.13 259.88,215.05" fill="#000000"/>
<polygon points="264.60,213.40 265.22,215.05 266.98,215.13 265.60,216.22 266.07,217.92 264.60,216.95 263.13,217.92 263.60,216.22 262.22,215.13 263.98,215.05" fill="#000000"/>
<polygon points="280.65,213.40 281.27,215.05 283.03,215.13 281.65,216.22 282.12,217.92 280.65,216.95 279.18,217.92 279.65,216.22 278.27,215.13 280.03,215.05" fill="#000000"/>
<polygon points="284.75,213.40 285.37,215.05 287.13,215.13 285.75,216.22 286.22,217.92 284.75,216.95 283.28,217.92 283.75,216.22 282.37,215.13 284.13,215.05" fill="#000000"/>
<polygon points="74.70,221.10 75.32,222.75 77.08,222.83 75.70,223.92 76.17,225.62 74.70,224.65 73.23,225.62 73.70,223.92 72.32,222.83 74.08,222.75" fill="#A42CF4"/>
<polygon points="78.80,221.10 79.42,222.75 81.18,222.83 79.80,223.92 80.27,225.62 78.80,224.65 77.33,225.62 77.80,223.92 76.42,222.83 78.18,222.75" fill="#A42CF4"/>
<text x="99.70" y="225.80" font-size="9" text-anchor="middle" font-weight="normal" fill="#A42CF4" >ns</text>
<text x="122.65" y="225.80" font-size="9" text-anchor="middle" font-weight="normal" fill="#A42CF4" >ns</text>
<text x="145.60" y="225.80" font-size="9" text-anchor="middle" font-weight="normal" fill="#A42CF4" >ns</text>
<text x="168.55" y="225.80" font-size="9" text-anchor="middle" font-weight="normal" fill="#A42CF4" >ns</text>
<text x="191.40" y="225.80" font-size="9" text-anchor="middle" font-weight="normal" fill="#A42CF4" >ns</text>
<text x="214.25" y="225.80" font-size="9" text-anchor="middle" font-weight="normal" fill="#A42CF4" >ns</text>
<text x="239.20" y="225.80" font-size="9" text-anchor="middle" font-weight="normal" fill="#A42CF4" >ns</text>
<text x="262.55" y="225.80" font-size="9" text-anchor="middle" font-weight="normal" fill="#A42CF4" >ns</text>
<text x="282.70" y="225.80" font-size="9" text-anchor="middle" font-weight="normal" fill="#A42CF4" >ns</text>
<polygon points="74.70,228.20 75.32,229.85 77.08,229.93 75.70,231.02 76.17,232.72 74.70,231.75 73.23,232.72 73.70,231.02 72.32,229.93 74.08,229.85" fill="#EE922E"/>
<polygon points="78.80,228.20 79.42,229.85 81.18,229.93 79.80,231.02 80.27,232.72 78.80,231.75 77.33,232.72 77.80,231.02 76.42,229.93 78.18,229.85" fill="#EE922E"/>
<polygon points="97.65,228.20 98.27,229.85 100.03,229.93 98.65,231.02 99.12,232.72 97.65,231.75 96.18,232.72 96.65,231.02 95.27,229.93 97.03,229.85" fill="#EE922E"/>
<polygon points="101.75,228.20 102.37,229.85 104.13,229.93 102.75,231.02 103.22,232.72 101.75,231.75 100.28,232.72 100.75,231.02 99.37,229.93 101.13,229.85" fill="#EE922E"/>
<polygon points="120.60,228.20 121.22,229.85 122.98,229.93 121.60,231.02 122.07,232.72 120.60,231.75 119.13,232.72 119.60,231.02 118.22,229.93 119.98,229.85" fill="#EE922E"/>
<polygon points="124.70,228.20 125.32,229.85 127.08,229.93 125.70,231.02 126.17,232.72 124.70,231.75 123.23,232.72 123.70,231.02 122.32,229.93 124.08,229.85" fill="#EE922E"/>
<polygon points="143.55,228.20 144.17,229.85 145.93,229.93 144.55,231.02 145.02,232.72 143.55,231.75 142.08,232.72 142.55,231.02 141.17,229.93 142.93,229.85" fill="#EE922E"/>
<polygon points="147.65,228.20 148.27,229.85 150.03,229.93 148.65,231.02 149.12,232.72 147.65,231.75 146.18,232.72 146.65,231.02 145.27,229.93 147.03,229.85" fill="#EE922E"/>
<polygon points="166.50,228.20 167.12,229.85 168.88,229.93 167.50,231.02 167.97,232.72 166.50,231.75 165.03,232.72 165.50,231.02 164.12,229.93 165.88,229.85" fill="#EE922E"/>
<polygon points="170.60,228.20 171.22,229.85 172.98,229.93 171.60,231.02 172.07,232.72 170.60,231.75 169.13,232.72 169.60,231.02 168.22,229.93 169.98,229.85" fill="#EE922E"/>
<polygon points="189.35,228.20 189.97,229.85 191.73,229.93 190.35,231.02 190.82,232.72 189.35,231.75 187.88,232.72 188.35,231.02 186.97,229.93 188.73,229.85" fill="#EE922E"/>
<polygon points="193.45,228.20 194.07,229.85 195.83,229.93 194.45,231.02 194.92,232.72 193.45,231.75 191.98,232.72 192.45,231.02 191.07,229.93 192.83,229.85" fill="#EE922E"/>
<text x="214.25" y="232.90" font-size="9" text-anchor="middle" font-weight="normal" fill="#EE922E" >ns</text>
<text x="239.20" y="232.90" font-size="9" text-anchor="middle" font-weight="normal" fill="#EE922E" >ns</text>
<text x="262.55" y="232.90" font-size="9" text-anchor="middle" font-weight="normal" fill="#EE922E" >ns</text>
<polygon points="282.70,228.20 283.32,229.85 285.08,229.93 283.70,231.02 284.17,232.72 282.70,231.75 281.23,232.72 281.70,231.02 280.32,229.93 282.08,229.85" fill="#EE922E"/>
<line x1="350.40" y1="217.40" x2="350.40" y2="369.60" stroke="#000" stroke-width="1.8" />
<line x1="346.40" y1="368.70" x2="350.40" y2="368.70" stroke="#000" stroke-width="1.6" />
<text x="344.10" y="373.60" font-size="13.6" text-anchor="end" font-weight="normal" fill="#000" >0</text>
<line x1="346.40" y1="338.44" x2="350.40" y2="338.44" stroke="#000" stroke-width="1.6" />
<text x="344.10" y="343.34" font-size="13.6" text-anchor="end" font-weight="normal" fill="#000" >100</text>
<line x1="346.40" y1="308.18" x2="350.40" y2="308.18" stroke="#000" stroke-width="1.6" />
<text x="344.10" y="313.08" font-size="13.6" text-anchor="end" font-weight="normal" fill="#000" >200</text>
<line x1="346.40" y1="277.92" x2="350.40" y2="277.92" stroke="#000" stroke-width="1.6" />
<text x="344.10" y="282.82" font-size="13.6" text-anchor="end" font-weight="normal" fill="#000" >300</text>
<line x1="346.40" y1="247.66" x2="350.40" y2="247.66" stroke="#000" stroke-width="1.6" />
<text x="344.10" y="252.56" font-size="13.6" text-anchor="end" font-weight="normal" fill="#000" >400</text>
<line x1="346.40" y1="217.40" x2="350.40" y2="217.40" stroke="#000" stroke-width="1.6" />
<text x="344.10" y="222.30" font-size="13.6" text-anchor="end" font-weight="normal" fill="#000" >500</text>
<line x1="349.50" y1="368.70" x2="579.80" y2="368.70" stroke="#000" stroke-width="1.8" />
<line x1="350.40" y1="368.70" x2="350.40" y2="373.70" stroke="#000" stroke-width="1.6" />
<text x="350.40" y="387.30" font-size="13.8" text-anchor="middle" font-weight="normal" fill="#000" >0</text>
<line x1="396.10" y1="368.70" x2="396.10" y2="373.70" stroke="#000" stroke-width="1.6" />
<text x="396.10" y="387.30" font-size="13.8" text-anchor="middle" font-weight="normal" fill="#000" >2</text>
<line x1="441.80" y1="368.70" x2="441.80" y2="373.70" stroke="#000" stroke-width="1.6" />
<text x="441.80" y="387.30" font-size="13.8" text-anchor="middle" font-weight="normal" fill="#000" >4</text>
<line x1="487.50" y1="368.70" x2="487.50" y2="373.70" stroke="#000" stroke-width="1.6" />
<text x="487.50" y="387.30" font-size="13.8" text-anchor="middle" font-weight="normal" fill="#000" >6</text>
<line x1="533.20" y1="368.70" x2="533.20" y2="373.70" stroke="#000" stroke-width="1.6" />
<text x="533.20" y="387.30" font-size="13.8" text-anchor="middle" font-weight="normal" fill="#000" >8</text>
<line x1="578.90" y1="368.70" x2="578.90" y2="373.70" stroke="#000" stroke-width="1.6" />
<text x="578.90" y="387.30" font-size="13.8" text-anchor="middle" font-weight="normal" fill="#000" >10</text>
<text x="467.65" y="405.60" font-size="13.7" text-anchor="middle" font-weight="normal" fill="#000" >Days post-infection</text>
<text transform="translate(315.60,289.00) rotate(-90)" font-size="13.9" text-anchor="middle">Dermonecrosis area (mm2)</text>
<line x1="373.25" y1="366.28" x2="373.25" y2="368.70" stroke="#74B9F7" stroke-width="1" stroke-opacity="1"/>
<line x1="369.75" y1="366.28" x2="376.75" y2="366.28" stroke="#74B9F7" stroke-width="1" stroke-opacity="1"/>
<line x1="396.10" y1="359.62" x2="396.10" y2="368.09" stroke="#74B9F7" stroke-width="1" stroke-opacity="1"/>
<line x1="392.60" y1="359.62" x2="399.60" y2="359.62" stroke="#74B9F7" stroke-width="1" stroke-opacity="1"/>
<line x1="392.60" y1="368.09" x2="399.60" y2="368.09" stroke="#74B9F7" stroke-width="1" stroke-opacity="1"/>
<line x1="418.95" y1="356.60" x2="418.95" y2="368.70" stroke="#74B9F7" stroke-width="1" stroke-opacity="1"/>
<line x1="415.45" y1="356.60" x2="422.45" y2="356.60" stroke="#74B9F7" stroke-width="1" stroke-opacity="1"/>
<line x1="441.80" y1="355.08" x2="441.80" y2="368.70" stroke="#74B9F7" stroke-width="1" stroke-opacity="1"/>
<line x1="438.30" y1="355.08" x2="445.30" y2="355.08" stroke="#74B9F7" stroke-width="1" stroke-opacity="1"/>
<line x1="464.65" y1="358.41" x2="464.65" y2="368.70" stroke="#74B9F7" stroke-width="1" stroke-opacity="1"/>
<line x1="461.15" y1="358.41" x2="468.15" y2="358.41" stroke="#74B9F7" stroke-width="1" stroke-opacity="1"/>
<line x1="487.50" y1="355.39" x2="487.50" y2="368.70" stroke="#74B9F7" stroke-width="1" stroke-opacity="1"/>
<line x1="484.00" y1="355.39" x2="491.00" y2="355.39" stroke="#74B9F7" stroke-width="1" stroke-opacity="1"/>
<line x1="510.35" y1="362.04" x2="510.35" y2="368.70" stroke="#74B9F7" stroke-width="1" stroke-opacity="1"/>
<line x1="506.85" y1="362.04" x2="513.85" y2="362.04" stroke="#74B9F7" stroke-width="1" stroke-opacity="1"/>
<line x1="533.20" y1="364.46" x2="533.20" y2="368.70" stroke="#74B9F7" stroke-width="1" stroke-opacity="1"/>
<line x1="529.70" y1="364.46" x2="536.70" y2="364.46" stroke="#74B9F7" stroke-width="1" stroke-opacity="1"/>
<line x1="556.05" y1="365.07" x2="556.05" y2="368.70" stroke="#74B9F7" stroke-width="1" stroke-opacity="1"/>
<line x1="552.55" y1="365.07" x2="559.55" y2="365.07" stroke="#74B9F7" stroke-width="1" stroke-opacity="1"/>
<line x1="578.90" y1="364.46" x2="578.90" y2="368.70" stroke="#74B9F7" stroke-width="1" stroke-opacity="1"/>
<line x1="575.40" y1="364.46" x2="582.40" y2="364.46" stroke="#74B9F7" stroke-width="1" stroke-opacity="1"/>
<polyline points="350.40,368.70 373.25,367.79 396.10,363.86 418.95,362.65 441.80,362.65 464.65,363.86 487.50,362.65 510.35,367.49 533.20,367.49 556.05,367.79 578.90,367.49" fill="none" stroke="#58A8F6" stroke-width="1.8" stroke-linejoin="round"/>
<circle cx="350.40" cy="368.70" r="3.1" fill="#58A8F6"/>
<circle cx="373.25" cy="367.79" r="3.1" fill="#58A8F6"/>
<circle cx="396.10" cy="363.86" r="3.1" fill="#58A8F6"/>
<circle cx="418.95" cy="362.65" r="3.1" fill="#58A8F6"/>
<circle cx="441.80" cy="362.65" r="3.1" fill="#58A8F6"/>
<circle cx="464.65" cy="363.86" r="3.1" fill="#58A8F6"/>
<circle cx="487.50" cy="362.65" r="3.1" fill="#58A8F6"/>
<circle cx="510.35" cy="367.49" r="3.1" fill="#58A8F6"/>
<circle cx="533.20" cy="367.49" r="3.1" fill="#58A8F6"/>
<circle cx="556.05" cy="367.79" r="3.1" fill="#58A8F6"/>
<circle cx="578.90" cy="367.49" r="3.1" fill="#58A8F6"/>
<line x1="373.25" y1="365.07" x2="373.25" y2="368.70" stroke="#F0A352" stroke-width="1" stroke-opacity="1"/>
<line x1="369.75" y1="365.07" x2="376.75" y2="365.07" stroke="#F0A352" stroke-width="1" stroke-opacity="1"/>
<line x1="396.10" y1="339.95" x2="396.10" y2="364.16" stroke="#F0A352" stroke-width="1" stroke-opacity="1"/>
<line x1="392.60" y1="339.95" x2="399.60" y2="339.95" stroke="#F0A352" stroke-width="1" stroke-opacity="1"/>
<line x1="392.60" y1="364.16" x2="399.60" y2="364.16" stroke="#F0A352" stroke-width="1" stroke-opacity="1"/>
<line x1="418.95" y1="324.82" x2="418.95" y2="358.71" stroke="#F0A352" stroke-width="1" stroke-opacity="1"/>
<line x1="415.45" y1="324.82" x2="422.45" y2="324.82" stroke="#F0A352" stroke-width="1" stroke-opacity="1"/>
<line x1="415.45" y1="358.71" x2="422.45" y2="358.71" stroke="#F0A352" stroke-width="1" stroke-opacity="1"/>
<line x1="441.80" y1="328.76" x2="441.80" y2="354.78" stroke="#F0A352" stroke-width="1" stroke-opacity="1"/>
<line x1="438.30" y1="328.76" x2="445.30" y2="328.76" stroke="#F0A352" stroke-width="1" stroke-opacity="1"/>
<line x1="438.30" y1="354.78" x2="445.30" y2="354.78" stroke="#F0A352" stroke-width="1" stroke-opacity="1"/>
<line x1="464.65" y1="330.88" x2="464.65" y2="353.87" stroke="#F0A352" stroke-width="1" stroke-opacity="1"/>
<line x1="461.15" y1="330.88" x2="468.15" y2="330.88" stroke="#F0A352" stroke-width="1" stroke-opacity="1"/>
<line x1="461.15" y1="353.87" x2="468.15" y2="353.87" stroke="#F0A352" stroke-width="1" stroke-opacity="1"/>
<line x1="487.50" y1="327.55" x2="487.50" y2="359.62" stroke="#F0A352" stroke-width="1" stroke-opacity="1"/>
<line x1="484.00" y1="327.55" x2="491.00" y2="327.55" stroke="#F0A352" stroke-width="1" stroke-opacity="1"/>
<line x1="484.00" y1="359.62" x2="491.00" y2="359.62" stroke="#F0A352" stroke-width="1" stroke-opacity="1"/>
<line x1="510.35" y1="332.99" x2="510.35" y2="367.49" stroke="#F0A352" stroke-width="1" stroke-opacity="1"/>
<line x1="506.85" y1="332.99" x2="513.85" y2="332.99" stroke="#F0A352" stroke-width="1" stroke-opacity="1"/>
<line x1="506.85" y1="367.49" x2="513.85" y2="367.49" stroke="#F0A352" stroke-width="1" stroke-opacity="1"/>
<line x1="533.20" y1="343.89" x2="533.20" y2="365.07" stroke="#F0A352" stroke-width="1" stroke-opacity="1"/>
<line x1="529.70" y1="343.89" x2="536.70" y2="343.89" stroke="#F0A352" stroke-width="1" stroke-opacity="1"/>
<line x1="529.70" y1="365.07" x2="536.70" y2="365.07" stroke="#F0A352" stroke-width="1" stroke-opacity="1"/>
<line x1="556.05" y1="349.94" x2="556.05" y2="366.28" stroke="#F0A352" stroke-width="1" stroke-opacity="1"/>
<line x1="552.55" y1="349.94" x2="559.55" y2="349.94" stroke="#F0A352" stroke-width="1" stroke-opacity="1"/>
<line x1="552.55" y1="366.28" x2="559.55" y2="366.28" stroke="#F0A352" stroke-width="1" stroke-opacity="1"/>
<line x1="578.90" y1="348.12" x2="578.90" y2="365.07" stroke="#F0A352" stroke-width="1" stroke-opacity="1"/>
<line x1="575.40" y1="348.12" x2="582.40" y2="348.12" stroke="#F0A352" stroke-width="1" stroke-opacity="1"/>
<line x1="575.40" y1="365.07" x2="582.40" y2="365.07" stroke="#F0A352" stroke-width="1" stroke-opacity="1"/>
<polyline points="350.40,368.70 373.25,367.19 396.10,352.06 418.95,341.77 441.80,341.77 464.65,342.37 487.50,343.58 510.35,350.24 533.20,354.48 556.05,358.11 578.90,356.60" fill="none" stroke="#EE922E" stroke-width="1.8" stroke-linejoin="round"/>
<circle cx="350.40" cy="368.70" r="3.1" fill="#EE922E"/>
<circle cx="373.25" cy="367.19" r="3.1" fill="#EE922E"/>
<circle cx="396.10" cy="352.06" r="3.1" fill="#EE922E"/>
<circle cx="418.95" cy="341.77" r="3.1" fill="#EE922E"/>
<circle cx="441.80" cy="341.77" r="3.1" fill="#EE922E"/>
<circle cx="464.65" cy="342.37" r="3.1" fill="#EE922E"/>
<circle cx="487.50" cy="343.58" r="3.1" fill="#EE922E"/>
<circle cx="510.35" cy="350.24" r="3.1" fill="#EE922E"/>
<circle cx="533.20" cy="354.48" r="3.1" fill="#EE922E"/>
<circle cx="556.05" cy="358.11" r="3.1" fill="#EE922E"/>
<circle cx="578.90" cy="356.60" r="3.1" fill="#EE922E"/>
<line x1="373.25" y1="364.46" x2="373.25" y2="368.70" stroke="#B45EF5" stroke-width="1" stroke-opacity="1"/>
<line x1="369.75" y1="364.46" x2="376.75" y2="364.46" stroke="#B45EF5" stroke-width="1" stroke-opacity="1"/>
<line x1="396.10" y1="349.94" x2="396.10" y2="363.25" stroke="#B45EF5" stroke-width="1" stroke-opacity="1"/>
<line x1="392.60" y1="349.94" x2="399.60" y2="349.94" stroke="#B45EF5" stroke-width="1" stroke-opacity="1"/>
<line x1="392.60" y1="363.25" x2="399.60" y2="363.25" stroke="#B45EF5" stroke-width="1" stroke-opacity="1"/>
<line x1="418.95" y1="338.44" x2="418.95" y2="362.65" stroke="#B45EF5" stroke-width="1" stroke-opacity="1"/>
<line x1="415.45" y1="338.44" x2="422.45" y2="338.44" stroke="#B45EF5" stroke-width="1" stroke-opacity="1"/>
<line x1="415.45" y1="362.65" x2="422.45" y2="362.65" stroke="#B45EF5" stroke-width="1" stroke-opacity="1"/>
<line x1="441.80" y1="335.41" x2="441.80" y2="361.44" stroke="#B45EF5" stroke-width="1" stroke-opacity="1"/>
<line x1="438.30" y1="335.41" x2="445.30" y2="335.41" stroke="#B45EF5" stroke-width="1" stroke-opacity="1"/>
<line x1="438.30" y1="361.44" x2="445.30" y2="361.44" stroke="#B45EF5" stroke-width="1" stroke-opacity="1"/>
<line x1="464.65" y1="334.81" x2="464.65" y2="363.25" stroke="#B45EF5" stroke-width="1" stroke-opacity="1"/>
<line x1="461.15" y1="334.81" x2="468.15" y2="334.81" stroke="#B45EF5" stroke-width="1" stroke-opacity="1"/>
<line x1="461.15" y1="363.25" x2="468.15" y2="363.25" stroke="#B45EF5" stroke-width="1" stroke-opacity="1"/>
<line x1="487.50" y1="308.48" x2="487.50" y2="368.70" stroke="#B45EF5" stroke-width="1" stroke-opacity="1"/>
<line x1="484.00" y1="308.48" x2="491.00" y2="308.48" stroke="#B45EF5" stroke-width="1" stroke-opacity="1"/>
<line x1="510.35" y1="320.89" x2="510.35" y2="368.70" stroke="#B45EF5" stroke-width="1" stroke-opacity="1"/>
<line x1="506.85" y1="320.89" x2="513.85" y2="320.89" stroke="#B45EF5" stroke-width="1" stroke-opacity="1"/>
<line x1="533.20" y1="332.69" x2="533.20" y2="368.70" stroke="#B45EF5" stroke-width="1" stroke-opacity="1"/>
<line x1="529.70" y1="332.69" x2="536.70" y2="332.69" stroke="#B45EF5" stroke-width="1" stroke-opacity="1"/>
<line x1="556.05" y1="339.05" x2="556.05" y2="368.70" stroke="#B45EF5" stroke-width="1" stroke-opacity="1"/>
<line x1="552.55" y1="339.05" x2="559.55" y2="339.05" stroke="#B45EF5" stroke-width="1" stroke-opacity="1"/>
<line x1="578.90" y1="324.82" x2="578.90" y2="368.70" stroke="#B45EF5" stroke-width="1" stroke-opacity="1"/>
<line x1="575.40" y1="324.82" x2="582.40" y2="324.82" stroke="#B45EF5" stroke-width="1" stroke-opacity="1"/>
<polyline points="350.40,368.70 373.25,366.88 396.10,356.60 418.95,350.54 441.80,348.43 464.65,349.03 487.50,341.47 510.35,350.24 533.20,355.08 556.05,358.71 578.90,352.66" fill="none" stroke="#A42CF4" stroke-width="1.8" stroke-linejoin="round"/>
<circle cx="350.40" cy="368.70" r="3.1" fill="#A42CF4"/>
<circle cx="373.25" cy="366.88" r="3.1" fill="#A42CF4"/>
<circle cx="396.10" cy="356.60" r="3.1" fill="#A42CF4"/>
<circle cx="418.95" cy="350.54" r="3.1" fill="#A42CF4"/>
<circle cx="441.80" cy="348.43" r="3.1" fill="#A42CF4"/>
<circle cx="464.65" cy="349.03" r="3.1" fill="#A42CF4"/>
<circle cx="487.50" cy="341.47" r="3.1" fill="#A42CF4"/>
<circle cx="510.35" cy="350.24" r="3.1" fill="#A42CF4"/>
<circle cx="533.20" cy="355.08" r="3.1" fill="#A42CF4"/>
<circle cx="556.05" cy="358.71" r="3.1" fill="#A42CF4"/>
<circle cx="578.90" cy="352.66" r="3.1" fill="#A42CF4"/>
<line x1="373.25" y1="362.65" x2="373.25" y2="368.70" stroke="#333333" stroke-width="1" stroke-opacity="1"/>
<line x1="369.75" y1="362.65" x2="376.75" y2="362.65" stroke="#333333" stroke-width="1" stroke-opacity="1"/>
<line x1="396.10" y1="343.89" x2="396.10" y2="355.39" stroke="#333333" stroke-width="1" stroke-opacity="1"/>
<line x1="392.60" y1="343.89" x2="399.60" y2="343.89" stroke="#333333" stroke-width="1" stroke-opacity="1"/>
<line x1="392.60" y1="355.39" x2="399.60" y2="355.39" stroke="#333333" stroke-width="1" stroke-opacity="1"/>
<line x1="418.95" y1="277.92" x2="418.95" y2="346.91" stroke="#333333" stroke-width="1" stroke-opacity="1"/>
<line x1="415.45" y1="277.92" x2="422.45" y2="277.92" stroke="#333333" stroke-width="1" stroke-opacity="1"/>
<line x1="415.45" y1="346.91" x2="422.45" y2="346.91" stroke="#333333" stroke-width="1" stroke-opacity="1"/>
<line x1="441.80" y1="305.76" x2="441.80" y2="338.44" stroke="#333333" stroke-width="1" stroke-opacity="1"/>
<line x1="438.30" y1="305.76" x2="445.30" y2="305.76" stroke="#333333" stroke-width="1" stroke-opacity="1"/>
<line x1="438.30" y1="338.44" x2="445.30" y2="338.44" stroke="#333333" stroke-width="1" stroke-opacity="1"/>
<line x1="464.65" y1="294.56" x2="464.65" y2="342.98" stroke="#333333" stroke-width="1" stroke-opacity="1"/>
<line x1="461.15" y1="294.56" x2="468.15" y2="294.56" stroke="#333333" stroke-width="1" stroke-opacity="1"/>
<line x1="461.15" y1="342.98" x2="468.15" y2="342.98" stroke="#333333" stroke-width="1" stroke-opacity="1"/>
<line x1="487.50" y1="235.56" x2="487.50" y2="328.15" stroke="#333333" stroke-width="1" stroke-opacity="1"/>
<line x1="484.00" y1="235.56" x2="491.00" y2="235.56" stroke="#333333" stroke-width="1" stroke-opacity="1"/>
<line x1="484.00" y1="328.15" x2="491.00" y2="328.15" stroke="#333333" stroke-width="1" stroke-opacity="1"/>
<line x1="510.35" y1="259.76" x2="510.35" y2="341.47" stroke="#333333" stroke-width="1" stroke-opacity="1"/>
<line x1="506.85" y1="259.76" x2="513.85" y2="259.76" stroke="#333333" stroke-width="1" stroke-opacity="1"/>
<line x1="506.85" y1="341.47" x2="513.85" y2="341.47" stroke="#333333" stroke-width="1" stroke-opacity="1"/>
<line x1="533.20" y1="274.59" x2="533.20" y2="346.00" stroke="#333333" stroke-width="1" stroke-opacity="1"/>
<line x1="529.70" y1="274.59" x2="536.70" y2="274.59" stroke="#333333" stroke-width="1" stroke-opacity="1"/>
<line x1="529.70" y1="346.00" x2="536.70" y2="346.00" stroke="#333333" stroke-width="1" stroke-opacity="1"/>
<line x1="556.05" y1="280.95" x2="556.05" y2="350.54" stroke="#333333" stroke-width="1" stroke-opacity="1"/>
<line x1="552.55" y1="280.95" x2="559.55" y2="280.95" stroke="#333333" stroke-width="1" stroke-opacity="1"/>
<line x1="552.55" y1="350.54" x2="559.55" y2="350.54" stroke="#333333" stroke-width="1" stroke-opacity="1"/>
<line x1="578.90" y1="263.40" x2="578.90" y2="349.33" stroke="#333333" stroke-width="1" stroke-opacity="1"/>
<line x1="575.40" y1="263.40" x2="582.40" y2="263.40" stroke="#333333" stroke-width="1" stroke-opacity="1"/>
<line x1="575.40" y1="349.33" x2="582.40" y2="349.33" stroke="#333333" stroke-width="1" stroke-opacity="1"/>
<polyline points="350.40,368.70 373.25,366.28 396.10,349.64 418.95,312.42 441.80,322.10 464.65,318.77 487.50,281.85 510.35,300.62 533.20,310.30 556.05,315.75 578.90,306.36" fill="none" stroke="#000000" stroke-width="1.8" stroke-linejoin="round"/>
<circle cx="350.40" cy="368.70" r="3.1" fill="#000000"/>
<circle cx="373.25" cy="366.28" r="3.1" fill="#000000"/>
<circle cx="396.10" cy="349.64" r="3.1" fill="#000000"/>
<circle cx="418.95" cy="312.42" r="3.1" fill="#000000"/>
<circle cx="441.80" cy="322.10" r="3.1" fill="#000000"/>
<circle cx="464.65" cy="318.77" r="3.1" fill="#000000"/>
<circle cx="487.50" cy="281.85" r="3.1" fill="#000000"/>
<circle cx="510.35" cy="300.62" r="3.1" fill="#000000"/>
<circle cx="533.20" cy="310.30" r="3.1" fill="#000000"/>
<circle cx="556.05" cy="315.75" r="3.1" fill="#000000"/>
<circle cx="578.90" cy="306.36" r="3.1" fill="#000000"/>
<text x="375.75" y="218.20" font-size="9" text-anchor="middle" font-weight="normal" fill="#000000" >ns</text>
<text x="398.60" y="218.20" font-size="9" text-anchor="middle" font-weight="normal" fill="#000000" >ns</text>
<polygon points="415.50,213.50 416.12,215.15 417.88,215.23 416.50,216.32 416.97,218.02 415.50,217.05 414.03,218.02 414.50,216.32 413.12,215.23 414.88,215.15" fill="#000000"/>
<polygon points="419.60,213.50 420.22,215.15 421.98,215.23 420.60,216.32 421.07,218.02 419.60,217.05 418.13,218.02 418.60,216.32 417.22,215.23 418.98,215.15" fill="#000000"/>
<polygon points="423.70,213.50 424.32,215.15 426.08,215.23 424.70,216.32 425.17,218.02 423.70,217.05 422.23,218.02 422.70,216.32 421.32,215.23 423.08,215.15" fill="#000000"/>
<polygon points="427.80,213.50 428.42,215.15 430.18,215.23 428.80,216.32 429.27,218.02 427.80,217.05 426.33,218.02 426.80,216.32 425.42,215.23 427.18,215.15" fill="#000000"/>
<polygon points="437.85,213.50 438.47,215.15 440.23,215.23 438.85,216.32 439.32,218.02 437.85,217.05 436.38,218.02 436.85,216.32 435.47,215.23 437.23,215.15" fill="#000000"/>
<polygon points="441.95,213.50 442.57,215.15 444.33,215.23 442.95,216.32 443.42,218.02 441.95,217.05 440.48,218.02 440.95,216.32 439.57,215.23 441.33,215.15" fill="#000000"/>
<polygon points="446.05,213.50 446.67,215.15 448.43,215.23 447.05,216.32 447.52,218.02 446.05,217.05 444.58,218.02 445.05,216.32 443.67,215.23 445.43,215.15" fill="#000000"/>
<polygon points="450.15,213.50 450.77,215.15 452.53,215.23 451.15,216.32 451.62,218.02 450.15,217.05 448.68,218.02 449.15,216.32 447.77,215.23 449.53,215.15" fill="#000000"/>
<polygon points="461.50,213.50 462.12,215.15 463.88,215.23 462.50,216.32 462.97,218.02 461.50,217.05 460.03,218.02 460.50,216.32 459.12,215.23 460.88,215.15" fill="#000000"/>
<polygon points="465.60,213.50 466.22,215.15 467.98,215.23 466.60,216.32 467.07,218.02 465.60,217.05 464.13,218.02 464.60,216.32 463.22,215.23 464.98,215.15" fill="#000000"/>
<polygon points="469.70,213.50 470.32,215.15 472.08,215.23 470.70,216.32 471.17,218.02 469.70,217.05 468.23,218.02 468.70,216.32 467.32,215.23 469.08,215.15" fill="#000000"/>
<polygon points="473.80,213.50 474.42,215.15 476.18,215.23 474.80,216.32 475.27,218.02 473.80,217.05 472.33,218.02 472.80,216.32 471.42,215.23 473.18,215.15" fill="#000000"/>
<polygon points="482.35,213.50 482.97,215.15 484.73,215.23 483.35,216.32 483.82,218.02 482.35,217.05 480.88,218.02 481.35,216.32 479.97,215.23 481.73,215.15" fill="#000000"/>
<polygon points="486.45,213.50 487.07,215.15 488.83,215.23 487.45,216.32 487.92,218.02 486.45,217.05 484.98,218.02 485.45,216.32 484.07,215.23 485.83,215.15" fill="#000000"/>
<polygon points="490.55,213.50 491.17,215.15 492.93,215.23 491.55,216.32 492.02,218.02 490.55,217.05 489.08,218.02 489.55,216.32 488.17,215.23 489.93,215.15" fill="#000000"/>
<polygon points="494.65,213.50 495.27,215.15 497.03,215.23 495.65,216.32 496.12,218.02 494.65,217.05 493.18,218.02 493.65,216.32 492.27,215.23 494.03,215.15" fill="#000000"/>
<polygon points="504.60,213.50 505.22,215.15 506.98,215.23 505.60,216.32 506.07,218.02 504.60,217.05 503.13,218.02 503.60,216.32 502.22,215.23 503.98,215.15" fill="#000000"/>
<polygon points="508.70,213.50 509.32,215.15 511.08,215.23 509.70,216.32 510.17,218.02 508.70,217.05 507.23,218.02 507.70,216.32 506.32,215.23 508.08,215.15" fill="#000000"/>
<polygon points="512.80,213.50 513.42,215.15 515.18,215.23 513.80,216.32 514.27,218.02 512.80,217.05 511.33,218.02 511.80,216.32 510.42,215.23 512.18,215.15" fill="#000000"/>
<polygon points="516.90,213.50 517.52,215.15 519.28,215.23 517.90,216.32 518.37,218.02 516.90,217.05 515.43,218.02 515.90,216.32 514.52,215.23 516.28,215.15" fill="#000000"/>
<polygon points="526.55,213.50 527.17,215.15 528.93,215.23 527.55,216.32 528.02,218.02 526.55,217.05 525.08,218.02 525.55,216.32 524.17,215.23 525.93,215.15" fill="#000000"/>
<polygon points="530.65,213.50 531.27,215.15 533.03,215.23 531.65,216.32 532.12,218.02 530.65,217.05 529.18,218.02 529.65,216.32 528.27,215.23 530.03,215.15" fill="#000000"/>
<polygon points="534.75,213.50 535.37,215.15 537.13,215.23 535.75,216.32 536.22,218.02 534.75,217.05 533.28,218.02 533.75,216.32 532.37,215.23 534.13,215.15" fill="#000000"/>
<polygon points="538.85,213.50 539.47,215.15 541.23,215.23 539.85,216.32 540.32,218.02 538.85,217.05 537.38,218.02 537.85,216.32 536.47,215.23 538.23,215.15" fill="#000000"/>
<polygon points="549.90,213.50 550.52,215.15 552.28,215.23 550.90,216.32 551.37,218.02 549.90,217.05 548.43,218.02 548.90,216.32 547.52,215.23 549.28,215.15" fill="#000000"/>
<polygon points="554.00,213.50 554.62,215.15 556.38,215.23 555.00,216.32 555.47,218.02 554.00,217.05 552.53,218.02 553.00,216.32 551.62,215.23 553.38,215.15" fill="#000000"/>
<polygon points="558.10,213.50 558.72,215.15 560.48,215.23 559.10,216.32 559.57,218.02 558.10,217.05 556.63,218.02 557.10,216.32 555.72,215.23 557.48,215.15" fill="#000000"/>
<polygon points="562.20,213.50 562.82,215.15 564.58,215.23 563.20,216.32 563.67,218.02 562.20,217.05 560.73,218.02 561.20,216.32 559.82,215.23 561.58,215.15" fill="#000000"/>
<polygon points="573.05,213.50 573.67,215.15 575.43,215.23 574.05,216.32 574.52,218.02 573.05,217.05 571.58,218.02 572.05,216.32 570.67,215.23 572.43,215.15" fill="#000000"/>
<polygon points="577.15,213.50 577.77,215.15 579.53,215.23 578.15,216.32 578.62,218.02 577.15,217.05 575.68,218.02 576.15,216.32 574.77,215.23 576.53,215.15" fill="#000000"/>
<polygon points="581.25,213.50 581.87,215.15 583.63,215.23 582.25,216.32 582.72,218.02 581.25,217.05 579.78,218.02 580.25,216.32 578.87,215.23 580.63,215.15" fill="#000000"/>
<polygon points="585.35,213.50 585.97,215.15 587.73,215.23 586.35,216.32 586.82,218.02 585.35,217.05 583.88,218.02 584.35,216.32 582.97,215.23 584.73,215.15" fill="#000000"/>
<text x="375.75" y="226.00" font-size="9" text-anchor="middle" font-weight="normal" fill="#A42CF4" >ns</text>
<text x="398.60" y="226.00" font-size="9" text-anchor="middle" font-weight="normal" fill="#A42CF4" >ns</text>
<text x="421.65" y="226.00" font-size="9" text-anchor="middle" font-weight="normal" fill="#A42CF4" >ns</text>
<text x="444.00" y="226.00" font-size="9" text-anchor="middle" font-weight="normal" fill="#A42CF4" >ns</text>
<text x="467.65" y="226.00" font-size="9" text-anchor="middle" font-weight="normal" fill="#A42CF4" >ns</text>
<text x="488.50" y="226.00" font-size="9" text-anchor="middle" font-weight="normal" fill="#A42CF4" >ns</text>
<text x="510.75" y="226.00" font-size="9" text-anchor="middle" font-weight="normal" fill="#A42CF4" >ns</text>
<text x="532.70" y="226.00" font-size="9" text-anchor="middle" font-weight="normal" fill="#A42CF4" >ns</text>
<text x="556.05" y="226.00" font-size="9" text-anchor="middle" font-weight="normal" fill="#A42CF4" >ns</text>
<text x="579.20" y="226.00" font-size="9" text-anchor="middle" font-weight="normal" fill="#A42CF4" >ns</text>
<text x="375.75" y="232.90" font-size="9" text-anchor="middle" font-weight="normal" fill="#EE922E" >ns</text>
<text x="398.60" y="232.90" font-size="9" text-anchor="middle" font-weight="normal" fill="#EE922E" >ns</text>
<text x="421.65" y="232.90" font-size="9" text-anchor="middle" font-weight="normal" fill="#EE922E" >ns</text>
<text x="444.00" y="232.90" font-size="9" text-anchor="middle" font-weight="normal" fill="#EE922E" >ns</text>
<text x="467.65" y="232.90" font-size="9" text-anchor="middle" font-weight="normal" fill="#EE922E" >ns</text>
<text x="488.50" y="232.90" font-size="9" text-anchor="middle" font-weight="normal" fill="#EE922E" >ns</text>
<text x="510.75" y="232.90" font-size="9" text-anchor="middle" font-weight="normal" fill="#EE922E" >ns</text>
<text x="532.70" y="232.90" font-size="9" text-anchor="middle" font-weight="normal" fill="#EE922E" >ns</text>
<text x="556.05" y="232.90" font-size="9" text-anchor="middle" font-weight="normal" fill="#EE922E" >ns</text>
<text x="579.20" y="232.90" font-size="9" text-anchor="middle" font-weight="normal" fill="#EE922E" >ns</text>
<circle cx="606.60" cy="227.40" r="3.2" fill="#000000"/>
<text x="614.10" y="230.00" font-size="13.4">sham</text>
<circle cx="606.60" cy="243.10" r="3.2" fill="#A42CF4"/>
<text x="614.10" y="246.30" font-size="13.4">Hla<tspan font-size="10" dy="3.5">H</tspan></text>
<circle cx="606.60" cy="258.80" r="3.2" fill="#EE922E"/>
<text x="614.10" y="262.60" font-size="13.4">Hla<tspan font-size="10" dy="3.5">HDY</tspan></text>
<circle cx="606.60" cy="274.50" r="3.2" fill="#58A8F6"/>
<text x="614.10" y="278.90" font-size="13.4">Hla<tspan font-size="10" dy="3.5">HRE</tspan></text>
<text x="2.00" y="423.50" font-size="17" text-anchor="start" font-weight="bold" fill="#000" >c</text>
<text x="2.50" y="448.90" font-size="17" text-anchor="start" font-weight="bold" fill="#000" >SECONDARY INFECTION</text>
<line x1="52.40" y1="470.70" x2="52.40" y2="624.00" stroke="#000" stroke-width="1.8" />
<line x1="48.40" y1="623.10" x2="52.40" y2="623.10" stroke="#000" stroke-width="1.6" />
<text x="46.10" y="628.00" font-size="13.6" text-anchor="end" font-weight="normal" fill="#000" >0</text>
<line x1="48.40" y1="585.00" x2="52.40" y2="585.00" stroke="#000" stroke-width="1.6" />
<text x="46.10" y="589.90" font-size="13.6" text-anchor="end" font-weight="normal" fill="#000" >200</text>
<line x1="48.40" y1="546.90" x2="52.40" y2="546.90" stroke="#000" stroke-width="1.6" />
<text x="46.10" y="551.80" font-size="13.6" text-anchor="end" font-weight="normal" fill="#000" >400</text>
<line x1="48.40" y1="508.80" x2="52.40" y2="508.80" stroke="#000" stroke-width="1.6" />
<text x="46.10" y="513.70" font-size="13.6" text-anchor="end" font-weight="normal" fill="#000" >600</text>
<line x1="48.40" y1="470.70" x2="52.40" y2="470.70" stroke="#000" stroke-width="1.6" />
<text x="46.10" y="475.60" font-size="13.6" text-anchor="end" font-weight="normal" fill="#000" >800</text>
<line x1="51.50" y1="623.10" x2="282.30" y2="623.10" stroke="#000" stroke-width="1.8" />
<line x1="52.40" y1="623.10" x2="52.40" y2="628.10" stroke="#000" stroke-width="1.6" />
<text x="52.40" y="641.70" font-size="13.8" text-anchor="middle" font-weight="normal" fill="#000" >0</text>
<line x1="98.20" y1="623.10" x2="98.20" y2="628.10" stroke="#000" stroke-width="1.6" />
<text x="98.20" y="641.70" font-size="13.8" text-anchor="middle" font-weight="normal" fill="#000" >2</text>
<line x1="144.00" y1="623.10" x2="144.00" y2="628.10" stroke="#000" stroke-width="1.6" />
<text x="144.00" y="641.70" font-size="13.8" text-anchor="middle" font-weight="normal" fill="#000" >4</text>
<line x1="189.80" y1="623.10" x2="189.80" y2="628.10" stroke="#000" stroke-width="1.6" />
<text x="189.80" y="641.70" font-size="13.8" text-anchor="middle" font-weight="normal" fill="#000" >6</text>
<line x1="235.60" y1="623.10" x2="235.60" y2="628.10" stroke="#000" stroke-width="1.6" />
<text x="235.60" y="641.70" font-size="13.8" text-anchor="middle" font-weight="normal" fill="#000" >8</text>
<line x1="281.40" y1="623.10" x2="281.40" y2="628.10" stroke="#000" stroke-width="1.6" />
<text x="281.40" y="641.70" font-size="13.8" text-anchor="middle" font-weight="normal" fill="#000" >10</text>
<text x="166.90" y="659.60" font-size="13.7" text-anchor="middle" font-weight="normal" fill="#000" >Days post-infection</text>
<text transform="translate(13.40,543.00) rotate(-90)" font-size="13.9" text-anchor="middle">Abscess area (mm2)</text>
<line x1="75.30" y1="577.57" x2="75.30" y2="606.91" stroke="#74B9F7" stroke-width="1" stroke-opacity="1"/>
<line x1="71.80" y1="577.57" x2="78.80" y2="577.57" stroke="#74B9F7" stroke-width="1" stroke-opacity="1"/>
<line x1="71.80" y1="606.91" x2="78.80" y2="606.91" stroke="#74B9F7" stroke-width="1" stroke-opacity="1"/>
<line x1="98.20" y1="588.62" x2="98.20" y2="612.62" stroke="#74B9F7" stroke-width="1" stroke-opacity="1"/>
<line x1="94.70" y1="588.62" x2="101.70" y2="588.62" stroke="#74B9F7" stroke-width="1" stroke-opacity="1"/>
<line x1="94.70" y1="612.62" x2="101.70" y2="612.62" stroke="#74B9F7" stroke-width="1" stroke-opacity="1"/>
<line x1="121.10" y1="595.29" x2="121.10" y2="617.77" stroke="#74B9F7" stroke-width="1" stroke-opacity="1"/>
<line x1="117.60" y1="595.29" x2="124.60" y2="595.29" stroke="#74B9F7" stroke-width="1" stroke-opacity="1"/>
<line x1="117.60" y1="617.77" x2="124.60" y2="617.77" stroke="#74B9F7" stroke-width="1" stroke-opacity="1"/>
<line x1="144.00" y1="599.48" x2="144.00" y2="615.86" stroke="#74B9F7" stroke-width="1" stroke-opacity="1"/>
<line x1="140.50" y1="599.48" x2="147.50" y2="599.48" stroke="#74B9F7" stroke-width="1" stroke-opacity="1"/>
<line x1="140.50" y1="615.86" x2="147.50" y2="615.86" stroke="#74B9F7" stroke-width="1" stroke-opacity="1"/>
<line x1="166.90" y1="599.29" x2="166.90" y2="616.43" stroke="#74B9F7" stroke-width="1" stroke-opacity="1"/>
<line x1="163.40" y1="599.29" x2="170.40" y2="599.29" stroke="#74B9F7" stroke-width="1" stroke-opacity="1"/>
<line x1="163.40" y1="616.43" x2="170.40" y2="616.43" stroke="#74B9F7" stroke-width="1" stroke-opacity="1"/>
<line x1="189.80" y1="600.81" x2="189.80" y2="616.43" stroke="#74B9F7" stroke-width="1" stroke-opacity="1"/>
<line x1="186.30" y1="600.81" x2="193.30" y2="600.81" stroke="#74B9F7" stroke-width="1" stroke-opacity="1"/>
<line x1="186.30" y1="616.43" x2="193.30" y2="616.43" stroke="#74B9F7" stroke-width="1" stroke-opacity="1"/>
<line x1="212.70" y1="606.34" x2="212.70" y2="618.15" stroke="#74B9F7" stroke-width="1" stroke-opacity="1"/>
<line x1="209.20" y1="606.34" x2="216.20" y2="606.34" stroke="#74B9F7" stroke-width="1" stroke-opacity="1"/>
<line x1="209.20" y1="618.15" x2="216.20" y2="618.15" stroke="#74B9F7" stroke-width="1" stroke-opacity="1"/>
<line x1="235.60" y1="607.48" x2="235.60" y2="620.81" stroke="#74B9F7" stroke-width="1" stroke-opacity="1"/>
<line x1="232.10" y1="607.48" x2="239.10" y2="607.48" stroke="#74B9F7" stroke-width="1" stroke-opacity="1"/>
<line x1="232.10" y1="620.81" x2="239.10" y2="620.81" stroke="#74B9F7" stroke-width="1" stroke-opacity="1"/>
<line x1="258.50" y1="611.29" x2="258.50" y2="620.05" stroke="#74B9F7" stroke-width="1" stroke-opacity="1"/>
<line x1="255.00" y1="611.29" x2="262.00" y2="611.29" stroke="#74B9F7" stroke-width="1" stroke-opacity="1"/>
<line x1="255.00" y1="620.05" x2="262.00" y2="620.05" stroke="#74B9F7" stroke-width="1" stroke-opacity="1"/>
<line x1="281.40" y1="612.43" x2="281.40" y2="621.96" stroke="#74B9F7" stroke-width="1" stroke-opacity="1"/>
<line x1="277.90" y1="612.43" x2="284.90" y2="612.43" stroke="#74B9F7" stroke-width="1" stroke-opacity="1"/>
<line x1="277.90" y1="621.96" x2="284.90" y2="621.96" stroke="#74B9F7" stroke-width="1" stroke-opacity="1"/>
<polyline points="52.40,623.10 75.30,592.24 98.20,600.62 121.10,606.53 144.00,607.67 166.90,607.86 189.80,608.62 212.70,612.24 235.60,614.15 258.50,615.67 281.40,617.19" fill="none" stroke="#58A8F6" stroke-width="1.8" stroke-linejoin="round"/>
<circle cx="52.40" cy="623.10" r="3.1" fill="#58A8F6"/>
<circle cx="75.30" cy="592.24" r="3.1" fill="#58A8F6"/>
<circle cx="98.20" cy="600.62" r="3.1" fill="#58A8F6"/>
<circle cx="121.10" cy="606.53" r="3.1" fill="#58A8F6"/>
<circle cx="144.00" cy="607.67" r="3.1" fill="#58A8F6"/>
<circle cx="166.90" cy="607.86" r="3.1" fill="#58A8F6"/>
<circle cx="189.80" cy="608.62" r="3.1" fill="#58A8F6"/>
<circle cx="212.70" cy="612.24" r="3.1" fill="#58A8F6"/>
<circle cx="235.60" cy="614.15" r="3.1" fill="#58A8F6"/>
<circle cx="258.50" cy="615.67" r="3.1" fill="#58A8F6"/>
<circle cx="281.40" cy="617.19" r="3.1" fill="#58A8F6"/>
<line x1="75.30" y1="536.61" x2="75.30" y2="582.33" stroke="#F0A352" stroke-width="1" stroke-opacity="1"/>
<line x1="71.80" y1="536.61" x2="78.80" y2="536.61" stroke="#F0A352" stroke-width="1" stroke-opacity="1"/>
<line x1="71.80" y1="582.33" x2="78.80" y2="582.33" stroke="#F0A352" stroke-width="1" stroke-opacity="1"/>
<line x1="98.20" y1="515.09" x2="98.20" y2="569.95" stroke="#F0A352" stroke-width="1" stroke-opacity="1"/>
<line x1="94.70" y1="515.09" x2="101.70" y2="515.09" stroke="#F0A352" stroke-width="1" stroke-opacity="1"/>
<line x1="94.70" y1="569.95" x2="101.70" y2="569.95" stroke="#F0A352" stroke-width="1" stroke-opacity="1"/>
<line x1="121.10" y1="531.66" x2="121.10" y2="579.67" stroke="#F0A352" stroke-width="1" stroke-opacity="1"/>
<line x1="117.60" y1="531.66" x2="124.60" y2="531.66" stroke="#F0A352" stroke-width="1" stroke-opacity="1"/>
<line x1="117.60" y1="579.67" x2="124.60" y2="579.67" stroke="#F0A352" stroke-width="1" stroke-opacity="1"/>
<line x1="144.00" y1="541.19" x2="144.00" y2="581.19" stroke="#F0A352" stroke-width="1" stroke-opacity="1"/>
<line x1="140.50" y1="541.19" x2="147.50" y2="541.19" stroke="#F0A352" stroke-width="1" stroke-opacity="1"/>
<line x1="140.50" y1="581.19" x2="147.50" y2="581.19" stroke="#F0A352" stroke-width="1" stroke-opacity="1"/>
<line x1="166.90" y1="553.95" x2="166.90" y2="589.76" stroke="#F0A352" stroke-width="1" stroke-opacity="1"/>
<line x1="163.40" y1="553.95" x2="170.40" y2="553.95" stroke="#F0A352" stroke-width="1" stroke-opacity="1"/>
<line x1="163.40" y1="589.76" x2="170.40" y2="589.76" stroke="#F0A352" stroke-width="1" stroke-opacity="1"/>
<line x1="189.80" y1="555.66" x2="189.80" y2="589.19" stroke="#F0A352" stroke-width="1" stroke-opacity="1"/>
<line x1="186.30" y1="555.66" x2="193.30" y2="555.66" stroke="#F0A352" stroke-width="1" stroke-opacity="1"/>
<line x1="186.30" y1="589.19" x2="193.30" y2="589.19" stroke="#F0A352" stroke-width="1" stroke-opacity="1"/>
<line x1="212.70" y1="557.76" x2="212.70" y2="593.19" stroke="#F0A352" stroke-width="1" stroke-opacity="1"/>
<line x1="209.20" y1="557.76" x2="216.20" y2="557.76" stroke="#F0A352" stroke-width="1" stroke-opacity="1"/>
<line x1="209.20" y1="593.19" x2="216.20" y2="593.19" stroke="#F0A352" stroke-width="1" stroke-opacity="1"/>
<line x1="235.60" y1="559.66" x2="235.60" y2="591.29" stroke="#F0A352" stroke-width="1" stroke-opacity="1"/>
<line x1="232.10" y1="559.66" x2="239.10" y2="559.66" stroke="#F0A352" stroke-width="1" stroke-opacity="1"/>
<line x1="232.10" y1="591.29" x2="239.10" y2="591.29" stroke="#F0A352" stroke-width="1" stroke-opacity="1"/>
<line x1="258.50" y1="566.14" x2="258.50" y2="600.05" stroke="#F0A352" stroke-width="1" stroke-opacity="1"/>
<line x1="255.00" y1="566.14" x2="262.00" y2="566.14" stroke="#F0A352" stroke-width="1" stroke-opacity="1"/>
<line x1="255.00" y1="600.05" x2="262.00" y2="600.05" stroke="#F0A352" stroke-width="1" stroke-opacity="1"/>
<line x1="281.40" y1="578.52" x2="281.40" y2="604.43" stroke="#F0A352" stroke-width="1" stroke-opacity="1"/>
<line x1="277.90" y1="578.52" x2="284.90" y2="578.52" stroke="#F0A352" stroke-width="1" stroke-opacity="1"/>
<line x1="277.90" y1="604.43" x2="284.90" y2="604.43" stroke="#F0A352" stroke-width="1" stroke-opacity="1"/>
<polyline points="52.40,623.10 75.30,559.47 98.20,542.52 121.10,555.66 144.00,561.19 166.90,571.86 189.80,572.43 212.70,575.48 235.60,575.48 258.50,583.10 281.40,591.48" fill="none" stroke="#EE922E" stroke-width="1.8" stroke-linejoin="round"/>
<circle cx="52.40" cy="623.10" r="3.1" fill="#EE922E"/>
<circle cx="75.30" cy="559.47" r="3.1" fill="#EE922E"/>
<circle cx="98.20" cy="542.52" r="3.1" fill="#EE922E"/>
<circle cx="121.10" cy="555.66" r="3.1" fill="#EE922E"/>
<circle cx="144.00" cy="561.19" r="3.1" fill="#EE922E"/>
<circle cx="166.90" cy="571.86" r="3.1" fill="#EE922E"/>
<circle cx="189.80" cy="572.43" r="3.1" fill="#EE922E"/>
<circle cx="212.70" cy="575.48" r="3.1" fill="#EE922E"/>
<circle cx="235.60" cy="575.48" r="3.1" fill="#EE922E"/>
<circle cx="258.50" cy="583.10" r="3.1" fill="#EE922E"/>
<circle cx="281.40" cy="591.48" r="3.1" fill="#EE922E"/>
<line x1="75.30" y1="519.85" x2="75.30" y2="599.10" stroke="#B45EF5" stroke-width="1" stroke-opacity="1"/>
<line x1="71.80" y1="519.85" x2="78.80" y2="519.85" stroke="#B45EF5" stroke-width="1" stroke-opacity="1"/>
<line x1="71.80" y1="599.10" x2="78.80" y2="599.10" stroke="#B45EF5" stroke-width="1" stroke-opacity="1"/>
<line x1="98.20" y1="519.47" x2="98.20" y2="596.05" stroke="#B45EF5" stroke-width="1" stroke-opacity="1"/>
<line x1="94.70" y1="519.47" x2="101.70" y2="519.47" stroke="#B45EF5" stroke-width="1" stroke-opacity="1"/>
<line x1="94.70" y1="596.05" x2="101.70" y2="596.05" stroke="#B45EF5" stroke-width="1" stroke-opacity="1"/>
<line x1="121.10" y1="528.99" x2="121.10" y2="604.43" stroke="#B45EF5" stroke-width="1" stroke-opacity="1"/>
<line x1="117.60" y1="528.99" x2="124.60" y2="528.99" stroke="#B45EF5" stroke-width="1" stroke-opacity="1"/>
<line x1="117.60" y1="604.43" x2="124.60" y2="604.43" stroke="#B45EF5" stroke-width="1" stroke-opacity="1"/>
<line x1="144.00" y1="540.23" x2="144.00" y2="607.29" stroke="#B45EF5" stroke-width="1" stroke-opacity="1"/>
<line x1="140.50" y1="540.23" x2="147.50" y2="540.23" stroke="#B45EF5" stroke-width="1" stroke-opacity="1"/>
<line x1="140.50" y1="607.29" x2="147.50" y2="607.29" stroke="#B45EF5" stroke-width="1" stroke-opacity="1"/>
<line x1="166.90" y1="563.47" x2="166.90" y2="606.53" stroke="#B45EF5" stroke-width="1" stroke-opacity="1"/>
<line x1="163.40" y1="563.47" x2="170.40" y2="563.47" stroke="#B45EF5" stroke-width="1" stroke-opacity="1"/>
<line x1="163.40" y1="606.53" x2="170.40" y2="606.53" stroke="#B45EF5" stroke-width="1" stroke-opacity="1"/>
<line x1="189.80" y1="545.19" x2="189.80" y2="603.48" stroke="#B45EF5" stroke-width="1" stroke-opacity="1"/>
<line x1="186.30" y1="545.19" x2="193.30" y2="545.19" stroke="#B45EF5" stroke-width="1" stroke-opacity="1"/>
<line x1="186.30" y1="603.48" x2="193.30" y2="603.48" stroke="#B45EF5" stroke-width="1" stroke-opacity="1"/>
<line x1="212.70" y1="558.14" x2="212.70" y2="610.34" stroke="#B45EF5" stroke-width="1" stroke-opacity="1"/>
<line x1="209.20" y1="558.14" x2="216.20" y2="558.14" stroke="#B45EF5" stroke-width="1" stroke-opacity="1"/>
<line x1="209.20" y1="610.34" x2="216.20" y2="610.34" stroke="#B45EF5" stroke-width="1" stroke-opacity="1"/>
<line x1="235.60" y1="565.57" x2="235.60" y2="613.58" stroke="#B45EF5" stroke-width="1" stroke-opacity="1"/>
<line x1="232.10" y1="565.57" x2="239.10" y2="565.57" stroke="#B45EF5" stroke-width="1" stroke-opacity="1"/>
<line x1="232.10" y1="613.58" x2="239.10" y2="613.58" stroke="#B45EF5" stroke-width="1" stroke-opacity="1"/>
<line x1="258.50" y1="569.76" x2="258.50" y2="617.77" stroke="#B45EF5" stroke-width="1" stroke-opacity="1"/>
<line x1="255.00" y1="569.76" x2="262.00" y2="569.76" stroke="#B45EF5" stroke-width="1" stroke-opacity="1"/>
<line x1="255.00" y1="617.77" x2="262.00" y2="617.77" stroke="#B45EF5" stroke-width="1" stroke-opacity="1"/>
<line x1="281.40" y1="582.52" x2="281.40" y2="621.39" stroke="#B45EF5" stroke-width="1" stroke-opacity="1"/>
<line x1="277.90" y1="582.52" x2="284.90" y2="582.52" stroke="#B45EF5" stroke-width="1" stroke-opacity="1"/>
<line x1="277.90" y1="621.39" x2="284.90" y2="621.39" stroke="#B45EF5" stroke-width="1" stroke-opacity="1"/>
<polyline points="52.40,623.10 75.30,559.47 98.20,557.76 121.10,566.71 144.00,573.76 166.90,585.00 189.80,574.33 212.70,584.24 235.60,589.57 258.50,593.76 281.40,601.95" fill="none" stroke="#A42CF4" stroke-width="1.8" stroke-linejoin="round"/>
<circle cx="52.40" cy="623.10" r="3.1" fill="#A42CF4"/>
<circle cx="75.30" cy="559.47" r="3.1" fill="#A42CF4"/>
<circle cx="98.20" cy="557.76" r="3.1" fill="#A42CF4"/>
<circle cx="121.10" cy="566.71" r="3.1" fill="#A42CF4"/>
<circle cx="144.00" cy="573.76" r="3.1" fill="#A42CF4"/>
<circle cx="166.90" cy="585.00" r="3.1" fill="#A42CF4"/>
<circle cx="189.80" cy="574.33" r="3.1" fill="#A42CF4"/>
<circle cx="212.70" cy="584.24" r="3.1" fill="#A42CF4"/>
<circle cx="235.60" cy="589.57" r="3.1" fill="#A42CF4"/>
<circle cx="258.50" cy="593.76" r="3.1" fill="#A42CF4"/>
<circle cx="281.40" cy="601.95" r="3.1" fill="#A42CF4"/>
<line x1="75.30" y1="533.37" x2="75.30" y2="572.62" stroke="#333333" stroke-width="1" stroke-opacity="1"/>
<line x1="71.80" y1="533.37" x2="78.80" y2="533.37" stroke="#333333" stroke-width="1" stroke-opacity="1"/>
<line x1="71.80" y1="572.62" x2="78.80" y2="572.62" stroke="#333333" stroke-width="1" stroke-opacity="1"/>
<line x1="98.20" y1="503.09" x2="98.20" y2="566.33" stroke="#333333" stroke-width="1" stroke-opacity="1"/>
<line x1="94.70" y1="503.09" x2="101.70" y2="503.09" stroke="#333333" stroke-width="1" stroke-opacity="1"/>
<line x1="94.70" y1="566.33" x2="101.70" y2="566.33" stroke="#333333" stroke-width="1" stroke-opacity="1"/>
<line x1="121.10" y1="516.23" x2="121.10" y2="585.19" stroke="#333333" stroke-width="1" stroke-opacity="1"/>
<line x1="117.60" y1="516.23" x2="124.60" y2="516.23" stroke="#333333" stroke-width="1" stroke-opacity="1"/>
<line x1="117.60" y1="585.19" x2="124.60" y2="585.19" stroke="#333333" stroke-width="1" stroke-opacity="1"/>
<line x1="144.00" y1="536.23" x2="144.00" y2="574.71" stroke="#333333" stroke-width="1" stroke-opacity="1"/>
<line x1="140.50" y1="536.23" x2="147.50" y2="536.23" stroke="#333333" stroke-width="1" stroke-opacity="1"/>
<line x1="140.50" y1="574.71" x2="147.50" y2="574.71" stroke="#333333" stroke-width="1" stroke-opacity="1"/>
<line x1="166.90" y1="553.00" x2="166.90" y2="585.38" stroke="#333333" stroke-width="1" stroke-opacity="1"/>
<line x1="163.40" y1="553.00" x2="170.40" y2="553.00" stroke="#333333" stroke-width="1" stroke-opacity="1"/>
<line x1="163.40" y1="585.38" x2="170.40" y2="585.38" stroke="#333333" stroke-width="1" stroke-opacity="1"/>
<line x1="189.80" y1="543.28" x2="189.80" y2="583.67" stroke="#333333" stroke-width="1" stroke-opacity="1"/>
<line x1="186.30" y1="543.28" x2="193.30" y2="543.28" stroke="#333333" stroke-width="1" stroke-opacity="1"/>
<line x1="186.30" y1="583.67" x2="193.30" y2="583.67" stroke="#333333" stroke-width="1" stroke-opacity="1"/>
<line x1="212.70" y1="546.52" x2="212.70" y2="585.00" stroke="#333333" stroke-width="1" stroke-opacity="1"/>
<line x1="209.20" y1="546.52" x2="216.20" y2="546.52" stroke="#333333" stroke-width="1" stroke-opacity="1"/>
<line x1="209.20" y1="585.00" x2="216.20" y2="585.00" stroke="#333333" stroke-width="1" stroke-opacity="1"/>
<line x1="235.60" y1="551.47" x2="235.60" y2="586.90" stroke="#333333" stroke-width="1" stroke-opacity="1"/>
<line x1="232.10" y1="551.47" x2="239.10" y2="551.47" stroke="#333333" stroke-width="1" stroke-opacity="1"/>
<line x1="232.10" y1="586.90" x2="239.10" y2="586.90" stroke="#333333" stroke-width="1" stroke-opacity="1"/>
<line x1="258.50" y1="558.90" x2="258.50" y2="597.76" stroke="#333333" stroke-width="1" stroke-opacity="1"/>
<line x1="255.00" y1="558.90" x2="262.00" y2="558.90" stroke="#333333" stroke-width="1" stroke-opacity="1"/>
<line x1="255.00" y1="597.76" x2="262.00" y2="597.76" stroke="#333333" stroke-width="1" stroke-opacity="1"/>
<line x1="281.40" y1="564.24" x2="281.40" y2="603.10" stroke="#333333" stroke-width="1" stroke-opacity="1"/>
<line x1="277.90" y1="564.24" x2="284.90" y2="564.24" stroke="#333333" stroke-width="1" stroke-opacity="1"/>
<line x1="277.90" y1="603.10" x2="284.90" y2="603.10" stroke="#333333" stroke-width="1" stroke-opacity="1"/>
<polyline points="52.40,623.10 75.30,553.00 98.20,534.71 121.10,550.71 144.00,555.47 166.90,569.19 189.80,563.47 212.70,565.76 235.60,569.19 258.50,578.33 281.40,583.67" fill="none" stroke="#000000" stroke-width="1.8" stroke-linejoin="round"/>
<circle cx="52.40" cy="623.10" r="3.1" fill="#000000"/>
<circle cx="75.30" cy="553.00" r="3.1" fill="#000000"/>
<circle cx="98.20" cy="534.71" r="3.1" fill="#000000"/>
<circle cx="121.10" cy="550.71" r="3.1" fill="#000000"/>
<circle cx="144.00" cy="555.47" r="3.1" fill="#000000"/>
<circle cx="166.90" cy="569.19" r="3.1" fill="#000000"/>
<circle cx="189.80" cy="563.47" r="3.1" fill="#000000"/>
<circle cx="212.70" cy="565.76" r="3.1" fill="#000000"/>
<circle cx="235.60" cy="569.19" r="3.1" fill="#000000"/>
<circle cx="258.50" cy="578.33" r="3.1" fill="#000000"/>
<circle cx="281.40" cy="583.67" r="3.1" fill="#000000"/>
<polygon points="71.50,467.10 72.12,468.75 73.88,468.83 72.50,469.92 72.97,471.62 71.50,470.65 70.03,471.62 70.50,469.92 69.12,468.83 70.88,468.75" fill="#000000"/>
<polygon points="75.60,467.10 76.22,468.75 77.98,468.83 76.60,469.92 77.07,471.62 75.60,470.65 74.13,471.62 74.60,469.92 73.22,468.83 74.98,468.75" fill="#000000"/>
<polygon points="79.70,467.10 80.32,468.75 82.08,468.83 80.70,469.92 81.17,471.62 79.70,470.65 78.23,471.62 78.70,469.92 77.32,468.83 79.08,468.75" fill="#000000"/>
<polygon points="92.55,467.10 93.17,468.75 94.93,468.83 93.55,469.92 94.02,471.62 92.55,470.65 91.08,471.62 91.55,469.92 90.17,468.83 91.93,468.75" fill="#000000"/>
<polygon points="96.65,467.10 97.27,468.75 99.03,468.83 97.65,469.92 98.12,471.62 96.65,470.65 95.18,471.62 95.65,469.92 94.27,468.83 96.03,468.75" fill="#000000"/>
<polygon points="100.75,467.10 101.37,468.75 103.13,468.83 101.75,469.92 102.22,471.62 100.75,470.65 99.28,471.62 99.75,469.92 98.37,468.83 100.13,468.75" fill="#000000"/>
<polygon points="104.85,467.10 105.47,468.75 107.23,468.83 105.85,469.92 106.32,471.62 104.85,470.65 103.38,471.62 103.85,469.92 102.47,468.83 104.23,468.75" fill="#000000"/>
<polygon points="115.55,467.10 116.17,468.75 117.93,468.83 116.55,469.92 117.02,471.62 115.55,470.65 114.08,471.62 114.55,469.92 113.17,468.83 114.93,468.75" fill="#000000"/>
<polygon points="119.65,467.10 120.27,468.75 122.03,468.83 120.65,469.92 121.12,471.62 119.65,470.65 118.18,471.62 118.65,469.92 117.27,468.83 119.03,468.75" fill="#000000"/>
<polygon points="123.75,467.10 124.37,468.75 126.13,468.83 124.75,469.92 125.22,471.62 123.75,470.65 122.28,471.62 122.75,469.92 121.37,468.83 123.13,468.75" fill="#000000"/>
<polygon points="127.85,467.10 128.47,468.75 130.23,468.83 128.85,469.92 129.32,471.62 127.85,470.65 126.38,471.62 126.85,469.92 125.47,468.83 127.23,468.75" fill="#000000"/>
<polygon points="138.65,467.10 139.27,468.75 141.03,468.83 139.65,469.92 140.12,471.62 138.65,470.65 137.18,471.62 137.65,469.92 136.27,468.83 138.03,468.75" fill="#000000"/>
<polygon points="142.75,467.10 143.37,468.75 145.13,468.83 143.75,469.92 144.22,471.62 142.75,470.65 141.28,471.62 141.75,469.92 140.37,468.83 142.13,468.75" fill="#000000"/>
<polygon points="146.85,467.10 147.47,468.75 149.23,468.83 147.85,469.92 148.32,471.62 146.85,470.65 145.38,471.62 145.85,469.92 144.47,468.83 146.23,468.75" fill="#000000"/>
<polygon points="150.95,467.10 151.57,468.75 153.33,468.83 151.95,469.92 152.42,471.62 150.95,470.65 149.48,471.62 149.95,469.92 148.57,468.83 150.33,468.75" fill="#000000"/>
<polygon points="163.80,467.10 164.42,468.75 166.18,468.83 164.80,469.92 165.27,471.62 163.80,470.65 162.33,471.62 162.80,469.92 161.42,468.83 163.18,468.75" fill="#000000"/>
<polygon points="167.90,467.10 168.52,468.75 170.28,468.83 168.90,469.92 169.37,471.62 167.90,470.65 166.43,471.62 166.90,469.92 165.52,468.83 167.28,468.75" fill="#000000"/>
<polygon points="172.00,467.10 172.62,468.75 174.38,468.83 173.00,469.92 173.47,471.62 172.00,470.65 170.53,471.62 171.00,469.92 169.62,468.83 171.38,468.75" fill="#000000"/>
<polygon points="184.65,467.10 185.27,468.75 187.03,468.83 185.65,469.92 186.12,471.62 184.65,470.65 183.18,471.62 183.65,469.92 182.27,468.83 184.03,468.75" fill="#000000"/>
<polygon points="188.75,467.10 189.37,468.75 191.13,468.83 189.75,469.92 190.22,471.62 188.75,470.65 187.28,471.62 187.75,469.92 186.37,468.83 188.13,468.75" fill="#000000"/>
<polygon points="192.85,467.10 193.47,468.75 195.23,468.83 193.85,469.92 194.32,471.62 192.85,470.65 191.38,471.62 191.85,469.92 190.47,468.83 192.23,468.75" fill="#000000"/>
<polygon points="196.95,467.10 197.57,468.75 199.33,468.83 197.95,469.92 198.42,471.62 196.95,470.65 195.48,471.62 195.95,469.92 194.57,468.83 196.33,468.75" fill="#000000"/>
<polygon points="207.75,467.10 208.37,468.75 210.13,468.83 208.75,469.92 209.22,471.62 207.75,470.65 206.28,471.62 206.75,469.92 205.37,468.83 207.13,468.75" fill="#000000"/>
<polygon points="211.85,467.10 212.47,468.75 214.23,468.83 212.85,469.92 213.32,471.62 211.85,470.65 210.38,471.62 210.85,469.92 209.47,468.83 211.23,468.75" fill="#000000"/>
<polygon points="215.95,467.10 216.57,468.75 218.33,468.83 216.95,469.92 217.42,471.62 215.95,470.65 214.48,471.62 214.95,469.92 213.57,468.83 215.33,468.75" fill="#000000"/>
<polygon points="220.05,467.10 220.67,468.75 222.43,468.83 221.05,469.92 221.52,471.62 220.05,470.65 218.58,471.62 219.05,469.92 217.67,468.83 219.43,468.75" fill="#000000"/>
<polygon points="233.00,467.10 233.62,468.75 235.38,468.83 234.00,469.92 234.47,471.62 233.00,470.65 231.53,471.62 232.00,469.92 230.62,468.83 232.38,468.75" fill="#000000"/>
<polygon points="237.10,467.10 237.72,468.75 239.48,468.83 238.10,469.92 238.57,471.62 237.10,470.65 235.63,471.62 236.10,469.92 234.72,468.83 236.48,468.75" fill="#000000"/>
<polygon points="241.20,467.10 241.82,468.75 243.58,468.83 242.20,469.92 242.67,471.62 241.20,470.65 239.73,471.62 240.20,469.92 238.82,468.83 240.58,468.75" fill="#000000"/>
<polygon points="256.00,467.10 256.62,468.75 258.38,468.83 257.00,469.92 257.47,471.62 256.00,470.65 254.53,471.62 255.00,469.92 253.62,468.83 255.38,468.75" fill="#000000"/>
<polygon points="260.10,467.10 260.72,468.75 262.48,468.83 261.10,469.92 261.57,471.62 260.10,470.65 258.63,471.62 259.10,469.92 257.72,468.83 259.48,468.75" fill="#000000"/>
<polygon points="264.20,467.10 264.82,468.75 266.58,468.83 265.20,469.92 265.67,471.62 264.20,470.65 262.73,471.62 263.20,469.92 261.82,468.83 263.58,468.75" fill="#000000"/>
<polygon points="280.95,467.10 281.57,468.75 283.33,468.83 281.95,469.92 282.42,471.62 280.95,470.65 279.48,471.62 279.95,469.92 278.57,468.83 280.33,468.75" fill="#000000"/>
<polygon points="285.05,467.10 285.67,468.75 287.43,468.83 286.05,469.92 286.52,471.62 285.05,470.65 283.58,471.62 284.05,469.92 282.67,468.83 284.43,468.75" fill="#000000"/>
<polygon points="73.55,474.40 74.17,476.05 75.93,476.13 74.55,477.22 75.02,478.92 73.55,477.95 72.08,478.92 72.55,477.22 71.17,476.13 72.93,476.05" fill="#A42CF4"/>
<polygon points="77.65,474.40 78.27,476.05 80.03,476.13 78.65,477.22 79.12,478.92 77.65,477.95 76.18,478.92 76.65,477.22 75.27,476.13 77.03,476.05" fill="#A42CF4"/>
<polygon points="92.55,474.40 93.17,476.05 94.93,476.13 93.55,477.22 94.02,478.92 92.55,477.95 91.08,478.92 91.55,477.22 90.17,476.13 91.93,476.05" fill="#A42CF4"/>
<polygon points="96.65,474.40 97.27,476.05 99.03,476.13 97.65,477.22 98.12,478.92 96.65,477.95 95.18,478.92 95.65,477.22 94.27,476.13 96.03,476.05" fill="#A42CF4"/>
<polygon points="100.75,474.40 101.37,476.05 103.13,476.13 101.75,477.22 102.22,478.92 100.75,477.95 99.28,478.92 99.75,477.22 98.37,476.13 100.13,476.05" fill="#A42CF4"/>
<polygon points="104.85,474.40 105.47,476.05 107.23,476.13 105.85,477.22 106.32,478.92 104.85,477.95 103.38,478.92 103.85,477.22 102.47,476.13 104.23,476.05" fill="#A42CF4"/>
<polygon points="117.60,474.40 118.22,476.05 119.98,476.13 118.60,477.22 119.07,478.92 117.60,477.95 116.13,478.92 116.60,477.22 115.22,476.13 116.98,476.05" fill="#A42CF4"/>
<polygon points="121.70,474.40 122.32,476.05 124.08,476.13 122.70,477.22 123.17,478.92 121.70,477.95 120.23,478.92 120.70,477.22 119.32,476.13 121.08,476.05" fill="#A42CF4"/>
<polygon points="125.80,474.40 126.42,476.05 128.18,476.13 126.80,477.22 127.27,478.92 125.80,477.95 124.33,478.92 124.80,477.22 123.42,476.13 125.18,476.05" fill="#A42CF4"/>
<polygon points="142.75,474.40 143.37,476.05 145.13,476.13 143.75,477.22 144.22,478.92 142.75,477.95 141.28,478.92 141.75,477.22 140.37,476.13 142.13,476.05" fill="#A42CF4"/>
<polygon points="146.85,474.40 147.47,476.05 149.23,476.13 147.85,477.22 148.32,478.92 146.85,477.95 145.38,478.92 145.85,477.22 144.47,476.13 146.23,476.05" fill="#A42CF4"/>
<text x="167.90" y="479.10" font-size="9" text-anchor="middle" font-weight="normal" fill="#A42CF4" >ns</text>
<polygon points="188.75,474.40 189.37,476.05 191.13,476.13 189.75,477.22 190.22,478.92 188.75,477.95 187.28,478.92 187.75,477.22 186.37,476.13 188.13,476.05" fill="#A42CF4"/>
<polygon points="192.85,474.40 193.47,476.05 195.23,476.13 193.85,477.22 194.32,478.92 192.85,477.95 191.38,478.92 191.85,477.22 190.47,476.13 192.23,476.05" fill="#A42CF4"/>
<polygon points="213.90,474.40 214.52,476.05 216.28,476.13 214.90,477.22 215.37,478.92 213.90,477.95 212.43,478.92 212.90,477.22 211.52,476.13 213.28,476.05" fill="#A42CF4"/>
<text x="237.10" y="479.10" font-size="9" text-anchor="middle" font-weight="normal" fill="#A42CF4" >ns</text>
<text x="260.10" y="479.10" font-size="9" text-anchor="middle" font-weight="normal" fill="#A42CF4" >ns</text>
<text x="283.00" y="479.10" font-size="9" text-anchor="middle" font-weight="normal" fill="#A42CF4" >ns</text>
<polygon points="73.55,481.30 74.17,482.95 75.93,483.03 74.55,484.12 75.02,485.82 73.55,484.85 72.08,485.82 72.55,484.12 71.17,483.03 72.93,482.95" fill="#EE922E"/>
<polygon points="77.65,481.30 78.27,482.95 80.03,483.03 78.65,484.12 79.12,485.82 77.65,484.85 76.18,485.82 76.65,484.12 75.27,483.03 77.03,482.95" fill="#EE922E"/>
<polygon points="92.55,481.30 93.17,482.95 94.93,483.03 93.55,484.12 94.02,485.82 92.55,484.85 91.08,485.82 91.55,484.12 90.17,483.03 91.93,482.95" fill="#EE922E"/>
<polygon points="96.65,481.30 97.27,482.95 99.03,483.03 97.65,484.12 98.12,485.82 96.65,484.85 95.18,485.82 95.65,484.12 94.27,483.03 96.03,482.95" fill="#EE922E"/>
<polygon points="100.75,481.30 101.37,482.95 103.13,483.03 101.75,484.12 102.22,485.82 100.75,484.85 99.28,485.82 99.75,484.12 98.37,483.03 100.13,482.95" fill="#EE922E"/>
<polygon points="104.85,481.30 105.47,482.95 107.23,483.03 105.85,484.12 106.32,485.82 104.85,484.85 103.38,485.82 103.85,484.12 102.47,483.03 104.23,482.95" fill="#EE922E"/>
<polygon points="115.55,481.30 116.17,482.95 117.93,483.03 116.55,484.12 117.02,485.82 115.55,484.85 114.08,485.82 114.55,484.12 113.17,483.03 114.93,482.95" fill="#EE922E"/>
<polygon points="119.65,481.30 120.27,482.95 122.03,483.03 120.65,484.12 121.12,485.82 119.65,484.85 118.18,485.82 118.65,484.12 117.27,483.03 119.03,482.95" fill="#EE922E"/>
<polygon points="123.75,481.30 124.37,482.95 126.13,483.03 124.75,484.12 125.22,485.82 123.75,484.85 122.28,485.82 122.75,484.12 121.37,483.03 123.13,482.95" fill="#EE922E"/>
<polygon points="127.85,481.30 128.47,482.95 130.23,483.03 128.85,484.12 129.32,485.82 127.85,484.85 126.38,485.82 126.85,484.12 125.47,483.03 127.23,482.95" fill="#EE922E"/>
<polygon points="138.65,481.30 139.27,482.95 141.03,483.03 139.65,484.12 140.12,485.82 138.65,484.85 137.18,485.82 137.65,484.12 136.27,483.03 138.03,482.95" fill="#EE922E"/>
<polygon points="142.75,481.30 143.37,482.95 145.13,483.03 143.75,484.12 144.22,485.82 142.75,484.85 141.28,485.82 141.75,484.12 140.37,483.03 142.13,482.95" fill="#EE922E"/>
<polygon points="146.85,481.30 147.47,482.95 149.23,483.03 147.85,484.12 148.32,485.82 146.85,484.85 145.38,485.82 145.85,484.12 144.47,483.03 146.23,482.95" fill="#EE922E"/>
<polygon points="150.95,481.30 151.57,482.95 153.33,483.03 151.95,484.12 152.42,485.82 150.95,484.85 149.48,485.82 149.95,484.12 148.57,483.03 150.33,482.95" fill="#EE922E"/>
<polygon points="165.85,481.30 166.47,482.95 168.23,483.03 166.85,484.12 167.32,485.82 165.85,484.85 164.38,485.82 164.85,484.12 163.47,483.03 165.23,482.95" fill="#EE922E"/>
<polygon points="169.95,481.30 170.57,482.95 172.33,483.03 170.95,484.12 171.42,485.82 169.95,484.85 168.48,485.82 168.95,484.12 167.57,483.03 169.33,482.95" fill="#EE922E"/>
<polygon points="188.75,481.30 189.37,482.95 191.13,483.03 189.75,484.12 190.22,485.82 188.75,484.85 187.28,485.82 187.75,484.12 186.37,483.03 188.13,482.95" fill="#EE922E"/>
<polygon points="192.85,481.30 193.47,482.95 195.23,483.03 193.85,484.12 194.32,485.82 192.85,484.85 191.38,485.82 191.85,484.12 190.47,483.03 192.23,482.95" fill="#EE922E"/>
<polygon points="211.85,481.30 212.47,482.95 214.23,483.03 212.85,484.12 213.32,485.82 211.85,484.85 210.38,485.82 210.85,484.12 209.47,483.03 211.23,482.95" fill="#EE922E"/>
<polygon points="215.95,481.30 216.57,482.95 218.33,483.03 216.95,484.12 217.42,485.82 215.95,484.85 214.48,485.82 214.95,484.12 213.57,483.03 215.33,482.95" fill="#EE922E"/>
<polygon points="233.00,481.30 233.62,482.95 235.38,483.03 234.00,484.12 234.47,485.82 233.00,484.85 231.53,485.82 232.00,484.12 230.62,483.03 232.38,482.95" fill="#EE922E"/>
<polygon points="237.10,481.30 237.72,482.95 239.48,483.03 238.10,484.12 238.57,485.82 237.10,484.85 235.63,485.82 236.10,484.12 234.72,483.03 236.48,482.95" fill="#EE922E"/>
<polygon points="241.20,481.30 241.82,482.95 243.58,483.03 242.20,484.12 242.67,485.82 241.20,484.85 239.73,485.82 240.20,484.12 238.82,483.03 240.58,482.95" fill="#EE922E"/>
<polygon points="258.05,481.30 258.67,482.95 260.43,483.03 259.05,484.12 259.52,485.82 258.05,484.85 256.58,485.82 257.05,484.12 255.67,483.03 257.43,482.95" fill="#EE922E"/>
<polygon points="262.15,481.30 262.77,482.95 264.53,483.03 263.15,484.12 263.62,485.82 262.15,484.85 260.68,485.82 261.15,484.12 259.77,483.03 261.53,482.95" fill="#EE922E"/>
<polygon points="283.00,481.30 283.62,482.95 285.38,483.03 284.00,484.12 284.47,485.82 283.00,484.85 281.53,485.82 282.00,484.12 280.62,483.03 282.38,482.95" fill="#EE922E"/>
<line x1="350.00" y1="470.70" x2="350.00" y2="623.40" stroke="#000" stroke-width="1.8" />
<line x1="346.00" y1="622.50" x2="350.00" y2="622.50" stroke="#000" stroke-width="1.6" />
<text x="343.70" y="627.40" font-size="13.6" text-anchor="end" font-weight="normal" fill="#000" >0</text>
<line x1="346.00" y1="592.14" x2="350.00" y2="592.14" stroke="#000" stroke-width="1.6" />
<text x="343.70" y="597.04" font-size="13.6" text-anchor="end" font-weight="normal" fill="#000" >100</text>
<line x1="346.00" y1="561.78" x2="350.00" y2="561.78" stroke="#000" stroke-width="1.6" />
<text x="343.70" y="566.68" font-size="13.6" text-anchor="end" font-weight="normal" fill="#000" >200</text>
<line x1="346.00" y1="531.42" x2="350.00" y2="531.42" stroke="#000" stroke-width="1.6" />
<text x="343.70" y="536.32" font-size="13.6" text-anchor="end" font-weight="normal" fill="#000" >300</text>
<line x1="346.00" y1="501.06" x2="350.00" y2="501.06" stroke="#000" stroke-width="1.6" />
<text x="343.70" y="505.96" font-size="13.6" text-anchor="end" font-weight="normal" fill="#000" >400</text>
<line x1="346.00" y1="470.70" x2="350.00" y2="470.70" stroke="#000" stroke-width="1.6" />
<text x="343.70" y="475.60" font-size="13.6" text-anchor="end" font-weight="normal" fill="#000" >500</text>
<line x1="349.10" y1="622.50" x2="579.40" y2="622.50" stroke="#000" stroke-width="1.8" />
<line x1="350.00" y1="622.50" x2="350.00" y2="627.50" stroke="#000" stroke-width="1.6" />
<text x="350.00" y="641.10" font-size="13.8" text-anchor="middle" font-weight="normal" fill="#000" >0</text>
<line x1="395.70" y1="622.50" x2="395.70" y2="627.50" stroke="#000" stroke-width="1.6" />
<text x="395.70" y="641.10" font-size="13.8" text-anchor="middle" font-weight="normal" fill="#000" >2</text>
<line x1="441.40" y1="622.50" x2="441.40" y2="627.50" stroke="#000" stroke-width="1.6" />
<text x="441.40" y="641.10" font-size="13.8" text-anchor="middle" font-weight="normal" fill="#000" >4</text>
<line x1="487.10" y1="622.50" x2="487.10" y2="627.50" stroke="#000" stroke-width="1.6" />
<text x="487.10" y="641.10" font-size="13.8" text-anchor="middle" font-weight="normal" fill="#000" >6</text>
<line x1="532.80" y1="622.50" x2="532.80" y2="627.50" stroke="#000" stroke-width="1.6" />
<text x="532.80" y="641.10" font-size="13.8" text-anchor="middle" font-weight="normal" fill="#000" >8</text>
<line x1="578.50" y1="622.50" x2="578.50" y2="627.50" stroke="#000" stroke-width="1.6" />
<text x="578.50" y="641.10" font-size="13.8" text-anchor="middle" font-weight="normal" fill="#000" >10</text>
<text x="467.75" y="659.50" font-size="13.7" text-anchor="middle" font-weight="normal" fill="#000" >Days post-infection</text>
<text transform="translate(315.60,543.00) rotate(-90)" font-size="13.9" text-anchor="middle">Dermonecrosis area (mm2)</text>
<line x1="372.85" y1="619.46" x2="372.85" y2="622.50" stroke="#74B9F7" stroke-width="1" stroke-opacity="1"/>
<line x1="369.35" y1="619.46" x2="376.35" y2="619.46" stroke="#74B9F7" stroke-width="1" stroke-opacity="1"/>
<line x1="395.70" y1="615.82" x2="395.70" y2="622.50" stroke="#74B9F7" stroke-width="1" stroke-opacity="1"/>
<line x1="392.20" y1="615.82" x2="399.20" y2="615.82" stroke="#74B9F7" stroke-width="1" stroke-opacity="1"/>
<line x1="418.55" y1="593.66" x2="418.55" y2="620.98" stroke="#74B9F7" stroke-width="1" stroke-opacity="1"/>
<line x1="415.05" y1="593.66" x2="422.05" y2="593.66" stroke="#74B9F7" stroke-width="1" stroke-opacity="1"/>
<line x1="415.05" y1="620.98" x2="422.05" y2="620.98" stroke="#74B9F7" stroke-width="1" stroke-opacity="1"/>
<line x1="441.40" y1="586.07" x2="441.40" y2="618.25" stroke="#74B9F7" stroke-width="1" stroke-opacity="1"/>
<line x1="437.90" y1="586.07" x2="444.90" y2="586.07" stroke="#74B9F7" stroke-width="1" stroke-opacity="1"/>
<line x1="437.90" y1="618.25" x2="444.90" y2="618.25" stroke="#74B9F7" stroke-width="1" stroke-opacity="1"/>
<line x1="464.25" y1="587.59" x2="464.25" y2="619.77" stroke="#74B9F7" stroke-width="1" stroke-opacity="1"/>
<line x1="460.75" y1="587.59" x2="467.75" y2="587.59" stroke="#74B9F7" stroke-width="1" stroke-opacity="1"/>
<line x1="460.75" y1="619.77" x2="467.75" y2="619.77" stroke="#74B9F7" stroke-width="1" stroke-opacity="1"/>
<line x1="487.10" y1="592.44" x2="487.10" y2="619.16" stroke="#74B9F7" stroke-width="1" stroke-opacity="1"/>
<line x1="483.60" y1="592.44" x2="490.60" y2="592.44" stroke="#74B9F7" stroke-width="1" stroke-opacity="1"/>
<line x1="483.60" y1="619.16" x2="490.60" y2="619.16" stroke="#74B9F7" stroke-width="1" stroke-opacity="1"/>
<line x1="509.95" y1="596.09" x2="509.95" y2="618.55" stroke="#74B9F7" stroke-width="1" stroke-opacity="1"/>
<line x1="506.45" y1="596.09" x2="513.45" y2="596.09" stroke="#74B9F7" stroke-width="1" stroke-opacity="1"/>
<line x1="506.45" y1="618.55" x2="513.45" y2="618.55" stroke="#74B9F7" stroke-width="1" stroke-opacity="1"/>
<line x1="532.80" y1="598.82" x2="532.80" y2="621.89" stroke="#74B9F7" stroke-width="1" stroke-opacity="1"/>
<line x1="529.30" y1="598.82" x2="536.30" y2="598.82" stroke="#74B9F7" stroke-width="1" stroke-opacity="1"/>
<line x1="529.30" y1="621.89" x2="536.30" y2="621.89" stroke="#74B9F7" stroke-width="1" stroke-opacity="1"/>
<line x1="555.65" y1="604.28" x2="555.65" y2="621.89" stroke="#74B9F7" stroke-width="1" stroke-opacity="1"/>
<line x1="552.15" y1="604.28" x2="559.15" y2="604.28" stroke="#74B9F7" stroke-width="1" stroke-opacity="1"/>
<line x1="552.15" y1="621.89" x2="559.15" y2="621.89" stroke="#74B9F7" stroke-width="1" stroke-opacity="1"/>
<line x1="578.50" y1="606.71" x2="578.50" y2="621.89" stroke="#74B9F7" stroke-width="1" stroke-opacity="1"/>
<line x1="575.00" y1="606.71" x2="582.00" y2="606.71" stroke="#74B9F7" stroke-width="1" stroke-opacity="1"/>
<line x1="575.00" y1="621.89" x2="582.00" y2="621.89" stroke="#74B9F7" stroke-width="1" stroke-opacity="1"/>
<polyline points="350.00,622.50 372.85,621.59 395.70,619.46 418.55,607.32 441.40,602.16 464.25,603.68 487.10,605.80 509.95,607.32 532.80,610.36 555.65,613.09 578.50,614.30" fill="none" stroke="#58A8F6" stroke-width="1.8" stroke-linejoin="round"/>
<circle cx="350.00" cy="622.50" r="3.1" fill="#58A8F6"/>
<circle cx="372.85" cy="621.59" r="3.1" fill="#58A8F6"/>
<circle cx="395.70" cy="619.46" r="3.1" fill="#58A8F6"/>
<circle cx="418.55" cy="607.32" r="3.1" fill="#58A8F6"/>
<circle cx="441.40" cy="602.16" r="3.1" fill="#58A8F6"/>
<circle cx="464.25" cy="603.68" r="3.1" fill="#58A8F6"/>
<circle cx="487.10" cy="605.80" r="3.1" fill="#58A8F6"/>
<circle cx="509.95" cy="607.32" r="3.1" fill="#58A8F6"/>
<circle cx="532.80" cy="610.36" r="3.1" fill="#58A8F6"/>
<circle cx="555.65" cy="613.09" r="3.1" fill="#58A8F6"/>
<circle cx="578.50" cy="614.30" r="3.1" fill="#58A8F6"/>
<line x1="372.85" y1="607.93" x2="372.85" y2="622.50" stroke="#F0A352" stroke-width="1" stroke-opacity="1"/>
<line x1="369.35" y1="607.93" x2="376.35" y2="607.93" stroke="#F0A352" stroke-width="1" stroke-opacity="1"/>
<line x1="395.70" y1="611.87" x2="395.70" y2="622.50" stroke="#F0A352" stroke-width="1" stroke-opacity="1"/>
<line x1="392.20" y1="611.87" x2="399.20" y2="611.87" stroke="#F0A352" stroke-width="1" stroke-opacity="1"/>
<line x1="418.55" y1="566.33" x2="418.55" y2="603.37" stroke="#F0A352" stroke-width="1" stroke-opacity="1"/>
<line x1="415.05" y1="566.33" x2="422.05" y2="566.33" stroke="#F0A352" stroke-width="1" stroke-opacity="1"/>
<line x1="415.05" y1="603.37" x2="422.05" y2="603.37" stroke="#F0A352" stroke-width="1" stroke-opacity="1"/>
<line x1="441.40" y1="538.10" x2="441.40" y2="593.96" stroke="#F0A352" stroke-width="1" stroke-opacity="1"/>
<line x1="437.90" y1="538.10" x2="444.90" y2="538.10" stroke="#F0A352" stroke-width="1" stroke-opacity="1"/>
<line x1="437.90" y1="593.96" x2="444.90" y2="593.96" stroke="#F0A352" stroke-width="1" stroke-opacity="1"/>
<line x1="464.25" y1="530.81" x2="464.25" y2="597.60" stroke="#F0A352" stroke-width="1" stroke-opacity="1"/>
<line x1="460.75" y1="530.81" x2="467.75" y2="530.81" stroke="#F0A352" stroke-width="1" stroke-opacity="1"/>
<line x1="460.75" y1="597.60" x2="467.75" y2="597.60" stroke="#F0A352" stroke-width="1" stroke-opacity="1"/>
<line x1="487.10" y1="518.37" x2="487.10" y2="586.98" stroke="#F0A352" stroke-width="1" stroke-opacity="1"/>
<line x1="483.60" y1="518.37" x2="490.60" y2="518.37" stroke="#F0A352" stroke-width="1" stroke-opacity="1"/>
<line x1="483.60" y1="586.98" x2="490.60" y2="586.98" stroke="#F0A352" stroke-width="1" stroke-opacity="1"/>
<line x1="509.95" y1="516.85" x2="509.95" y2="592.14" stroke="#F0A352" stroke-width="1" stroke-opacity="1"/>
<line x1="506.45" y1="516.85" x2="513.45" y2="516.85" stroke="#F0A352" stroke-width="1" stroke-opacity="1"/>
<line x1="506.45" y1="592.14" x2="513.45" y2="592.14" stroke="#F0A352" stroke-width="1" stroke-opacity="1"/>
<line x1="532.80" y1="520.19" x2="532.80" y2="588.80" stroke="#F0A352" stroke-width="1" stroke-opacity="1"/>
<line x1="529.30" y1="520.19" x2="536.30" y2="520.19" stroke="#F0A352" stroke-width="1" stroke-opacity="1"/>
<line x1="529.30" y1="588.80" x2="536.30" y2="588.80" stroke="#F0A352" stroke-width="1" stroke-opacity="1"/>
<line x1="555.65" y1="532.33" x2="555.65" y2="598.52" stroke="#F0A352" stroke-width="1" stroke-opacity="1"/>
<line x1="552.15" y1="532.33" x2="559.15" y2="532.33" stroke="#F0A352" stroke-width="1" stroke-opacity="1"/>
<line x1="552.15" y1="598.52" x2="559.15" y2="598.52" stroke="#F0A352" stroke-width="1" stroke-opacity="1"/>
<line x1="578.50" y1="551.76" x2="578.50" y2="602.77" stroke="#F0A352" stroke-width="1" stroke-opacity="1"/>
<line x1="575.00" y1="551.76" x2="582.00" y2="551.76" stroke="#F0A352" stroke-width="1" stroke-opacity="1"/>
<line x1="575.00" y1="602.77" x2="582.00" y2="602.77" stroke="#F0A352" stroke-width="1" stroke-opacity="1"/>
<polyline points="350.00,622.50 372.85,620.07 395.70,617.95 418.55,584.85 441.40,566.03 464.25,564.21 487.10,552.67 509.95,554.49 532.80,554.49 555.65,565.42 578.50,577.26" fill="none" stroke="#EE922E" stroke-width="1.8" stroke-linejoin="round"/>
<circle cx="350.00" cy="622.50" r="3.1" fill="#EE922E"/>
<circle cx="372.85" cy="620.07" r="3.1" fill="#EE922E"/>
<circle cx="395.70" cy="617.95" r="3.1" fill="#EE922E"/>
<circle cx="418.55" cy="584.85" r="3.1" fill="#EE922E"/>
<circle cx="441.40" cy="566.03" r="3.1" fill="#EE922E"/>
<circle cx="464.25" cy="564.21" r="3.1" fill="#EE922E"/>
<circle cx="487.10" cy="552.67" r="3.1" fill="#EE922E"/>
<circle cx="509.95" cy="554.49" r="3.1" fill="#EE922E"/>
<circle cx="532.80" cy="554.49" r="3.1" fill="#EE922E"/>
<circle cx="555.65" cy="565.42" r="3.1" fill="#EE922E"/>
<circle cx="578.50" cy="577.26" r="3.1" fill="#EE922E"/>
<line x1="372.85" y1="611.87" x2="372.85" y2="622.50" stroke="#B45EF5" stroke-width="1" stroke-opacity="1"/>
<line x1="369.35" y1="611.87" x2="376.35" y2="611.87" stroke="#B45EF5" stroke-width="1" stroke-opacity="1"/>
<line x1="395.70" y1="602.16" x2="395.70" y2="622.50" stroke="#B45EF5" stroke-width="1" stroke-opacity="1"/>
<line x1="392.20" y1="602.16" x2="399.20" y2="602.16" stroke="#B45EF5" stroke-width="1" stroke-opacity="1"/>
<line x1="418.55" y1="545.99" x2="418.55" y2="610.36" stroke="#B45EF5" stroke-width="1" stroke-opacity="1"/>
<line x1="415.05" y1="545.99" x2="422.05" y2="545.99" stroke="#B45EF5" stroke-width="1" stroke-opacity="1"/>
<line x1="415.05" y1="610.36" x2="422.05" y2="610.36" stroke="#B45EF5" stroke-width="1" stroke-opacity="1"/>
<line x1="441.40" y1="555.40" x2="441.40" y2="590.01" stroke="#B45EF5" stroke-width="1" stroke-opacity="1"/>
<line x1="437.90" y1="555.40" x2="444.90" y2="555.40" stroke="#B45EF5" stroke-width="1" stroke-opacity="1"/>
<line x1="437.90" y1="590.01" x2="444.90" y2="590.01" stroke="#B45EF5" stroke-width="1" stroke-opacity="1"/>
<line x1="464.25" y1="542.96" x2="464.25" y2="597.00" stroke="#B45EF5" stroke-width="1" stroke-opacity="1"/>
<line x1="460.75" y1="542.96" x2="467.75" y2="542.96" stroke="#B45EF5" stroke-width="1" stroke-opacity="1"/>
<line x1="460.75" y1="597.00" x2="467.75" y2="597.00" stroke="#B45EF5" stroke-width="1" stroke-opacity="1"/>
<line x1="487.10" y1="521.10" x2="487.10" y2="601.86" stroke="#B45EF5" stroke-width="1" stroke-opacity="1"/>
<line x1="483.60" y1="521.10" x2="490.60" y2="521.10" stroke="#B45EF5" stroke-width="1" stroke-opacity="1"/>
<line x1="483.60" y1="601.86" x2="490.60" y2="601.86" stroke="#B45EF5" stroke-width="1" stroke-opacity="1"/>
<line x1="509.95" y1="519.58" x2="509.95" y2="598.52" stroke="#B45EF5" stroke-width="1" stroke-opacity="1"/>
<line x1="506.45" y1="519.58" x2="513.45" y2="519.58" stroke="#B45EF5" stroke-width="1" stroke-opacity="1"/>
<line x1="506.45" y1="598.52" x2="513.45" y2="598.52" stroke="#B45EF5" stroke-width="1" stroke-opacity="1"/>
<line x1="532.80" y1="530.51" x2="532.80" y2="607.62" stroke="#B45EF5" stroke-width="1" stroke-opacity="1"/>
<line x1="529.30" y1="530.51" x2="536.30" y2="530.51" stroke="#B45EF5" stroke-width="1" stroke-opacity="1"/>
<line x1="529.30" y1="607.62" x2="536.30" y2="607.62" stroke="#B45EF5" stroke-width="1" stroke-opacity="1"/>
<line x1="555.65" y1="537.80" x2="555.65" y2="613.09" stroke="#B45EF5" stroke-width="1" stroke-opacity="1"/>
<line x1="552.15" y1="537.80" x2="559.15" y2="537.80" stroke="#B45EF5" stroke-width="1" stroke-opacity="1"/>
<line x1="552.15" y1="613.09" x2="559.15" y2="613.09" stroke="#B45EF5" stroke-width="1" stroke-opacity="1"/>
<line x1="578.50" y1="561.78" x2="578.50" y2="616.43" stroke="#B45EF5" stroke-width="1" stroke-opacity="1"/>
<line x1="575.00" y1="561.78" x2="582.00" y2="561.78" stroke="#B45EF5" stroke-width="1" stroke-opacity="1"/>
<line x1="575.00" y1="616.43" x2="582.00" y2="616.43" stroke="#B45EF5" stroke-width="1" stroke-opacity="1"/>
<polyline points="350.00,622.50 372.85,620.07 395.70,613.39 418.55,578.17 441.40,572.71 464.25,569.98 487.10,561.48 509.95,559.05 532.80,569.07 555.65,575.44 578.50,589.10" fill="none" stroke="#A42CF4" stroke-width="1.8" stroke-linejoin="round"/>
<circle cx="350.00" cy="622.50" r="3.1" fill="#A42CF4"/>
<circle cx="372.85" cy="620.07" r="3.1" fill="#A42CF4"/>
<circle cx="395.70" cy="613.39" r="3.1" fill="#A42CF4"/>
<circle cx="418.55" cy="578.17" r="3.1" fill="#A42CF4"/>
<circle cx="441.40" cy="572.71" r="3.1" fill="#A42CF4"/>
<circle cx="464.25" cy="569.98" r="3.1" fill="#A42CF4"/>
<circle cx="487.10" cy="561.48" r="3.1" fill="#A42CF4"/>
<circle cx="509.95" cy="559.05" r="3.1" fill="#A42CF4"/>
<circle cx="532.80" cy="569.07" r="3.1" fill="#A42CF4"/>
<circle cx="555.65" cy="575.44" r="3.1" fill="#A42CF4"/>
<circle cx="578.50" cy="589.10" r="3.1" fill="#A42CF4"/>
<line x1="372.85" y1="610.96" x2="372.85" y2="622.50" stroke="#333333" stroke-width="1" stroke-opacity="1"/>
<line x1="369.35" y1="610.96" x2="376.35" y2="610.96" stroke="#333333" stroke-width="1" stroke-opacity="1"/>
<line x1="395.70" y1="589.10" x2="395.70" y2="622.50" stroke="#333333" stroke-width="1" stroke-opacity="1"/>
<line x1="392.20" y1="589.10" x2="399.20" y2="589.10" stroke="#333333" stroke-width="1" stroke-opacity="1"/>
<line x1="418.55" y1="544.78" x2="418.55" y2="583.64" stroke="#333333" stroke-width="1" stroke-opacity="1"/>
<line x1="415.05" y1="544.78" x2="422.05" y2="544.78" stroke="#333333" stroke-width="1" stroke-opacity="1"/>
<line x1="415.05" y1="583.64" x2="422.05" y2="583.64" stroke="#333333" stroke-width="1" stroke-opacity="1"/>
<line x1="441.40" y1="518.37" x2="441.40" y2="572.41" stroke="#333333" stroke-width="1" stroke-opacity="1"/>
<line x1="437.90" y1="518.37" x2="444.90" y2="518.37" stroke="#333333" stroke-width="1" stroke-opacity="1"/>
<line x1="437.90" y1="572.41" x2="444.90" y2="572.41" stroke="#333333" stroke-width="1" stroke-opacity="1"/>
<line x1="464.25" y1="518.37" x2="464.25" y2="574.23" stroke="#333333" stroke-width="1" stroke-opacity="1"/>
<line x1="460.75" y1="518.37" x2="467.75" y2="518.37" stroke="#333333" stroke-width="1" stroke-opacity="1"/>
<line x1="460.75" y1="574.23" x2="467.75" y2="574.23" stroke="#333333" stroke-width="1" stroke-opacity="1"/>
<line x1="487.10" y1="512.90" x2="487.10" y2="556.01" stroke="#333333" stroke-width="1" stroke-opacity="1"/>
<line x1="483.60" y1="512.90" x2="490.60" y2="512.90" stroke="#333333" stroke-width="1" stroke-opacity="1"/>
<line x1="483.60" y1="556.01" x2="490.60" y2="556.01" stroke="#333333" stroke-width="1" stroke-opacity="1"/>
<line x1="509.95" y1="507.44" x2="509.95" y2="561.48" stroke="#333333" stroke-width="1" stroke-opacity="1"/>
<line x1="506.45" y1="507.44" x2="513.45" y2="507.44" stroke="#333333" stroke-width="1" stroke-opacity="1"/>
<line x1="506.45" y1="561.48" x2="513.45" y2="561.48" stroke="#333333" stroke-width="1" stroke-opacity="1"/>
<line x1="532.80" y1="508.35" x2="532.80" y2="564.82" stroke="#333333" stroke-width="1" stroke-opacity="1"/>
<line x1="529.30" y1="508.35" x2="536.30" y2="508.35" stroke="#333333" stroke-width="1" stroke-opacity="1"/>
<line x1="529.30" y1="564.82" x2="536.30" y2="564.82" stroke="#333333" stroke-width="1" stroke-opacity="1"/>
<line x1="555.65" y1="519.88" x2="555.65" y2="581.82" stroke="#333333" stroke-width="1" stroke-opacity="1"/>
<line x1="552.15" y1="519.88" x2="559.15" y2="519.88" stroke="#333333" stroke-width="1" stroke-opacity="1"/>
<line x1="552.15" y1="581.82" x2="559.15" y2="581.82" stroke="#333333" stroke-width="1" stroke-opacity="1"/>
<line x1="578.50" y1="528.69" x2="578.50" y2="591.23" stroke="#333333" stroke-width="1" stroke-opacity="1"/>
<line x1="575.00" y1="528.69" x2="582.00" y2="528.69" stroke="#333333" stroke-width="1" stroke-opacity="1"/>
<line x1="575.00" y1="591.23" x2="582.00" y2="591.23" stroke="#333333" stroke-width="1" stroke-opacity="1"/>
<polyline points="350.00,622.50 372.85,618.55 395.70,608.84 418.55,564.21 441.40,545.39 464.25,546.30 487.10,534.46 509.95,534.46 532.80,536.58 555.65,550.85 578.50,559.96" fill="none" stroke="#000000" stroke-width="1.8" stroke-linejoin="round"/>
<circle cx="350.00" cy="622.50" r="3.1" fill="#000000"/>
<circle cx="372.85" cy="618.55" r="3.1" fill="#000000"/>
<circle cx="395.70" cy="608.84" r="3.1" fill="#000000"/>
<circle cx="418.55" cy="564.21" r="3.1" fill="#000000"/>
<circle cx="441.40" cy="545.39" r="3.1" fill="#000000"/>
<circle cx="464.25" cy="546.30" r="3.1" fill="#000000"/>
<circle cx="487.10" cy="534.46" r="3.1" fill="#000000"/>
<circle cx="509.95" cy="534.46" r="3.1" fill="#000000"/>
<circle cx="532.80" cy="536.58" r="3.1" fill="#000000"/>
<circle cx="555.65" cy="550.85" r="3.1" fill="#000000"/>
<circle cx="578.50" cy="559.96" r="3.1" fill="#000000"/>
<text x="375.15" y="471.80" font-size="9" text-anchor="middle" font-weight="normal" fill="#000000" >ns</text>
<text x="398.00" y="471.80" font-size="9" text-anchor="middle" font-weight="normal" fill="#000000" >ns</text>
<polygon points="416.75,467.10 417.37,468.75 419.13,468.83 417.75,469.92 418.22,471.62 416.75,470.65 415.28,471.62 415.75,469.92 414.37,468.83 416.13,468.75" fill="#000000"/>
<polygon points="420.85,467.10 421.47,468.75 423.23,468.83 421.85,469.92 422.32,471.62 420.85,470.65 419.38,471.62 419.85,469.92 418.47,468.83 420.23,468.75" fill="#000000"/>
<polygon points="424.95,467.10 425.57,468.75 427.33,468.83 425.95,469.92 426.42,471.62 424.95,470.65 423.48,471.62 423.95,469.92 422.57,468.83 424.33,468.75" fill="#000000"/>
<polygon points="437.55,467.10 438.17,468.75 439.93,468.83 438.55,469.92 439.02,471.62 437.55,470.65 436.08,471.62 436.55,469.92 435.17,468.83 436.93,468.75" fill="#000000"/>
<polygon points="441.65,467.10 442.27,468.75 444.03,468.83 442.65,469.92 443.12,471.62 441.65,470.65 440.18,471.62 440.65,469.92 439.27,468.83 441.03,468.75" fill="#000000"/>
<polygon points="445.75,467.10 446.37,468.75 448.13,468.83 446.75,469.92 447.22,471.62 445.75,470.65 444.28,471.62 444.75,469.92 443.37,468.83 445.13,468.75" fill="#000000"/>
<polygon points="449.85,467.10 450.47,468.75 452.23,468.83 450.85,469.92 451.32,471.62 449.85,470.65 448.38,471.62 448.85,469.92 447.47,468.83 449.23,468.75" fill="#000000"/>
<polygon points="460.40,467.10 461.02,468.75 462.78,468.83 461.40,469.92 461.87,471.62 460.40,470.65 458.93,471.62 459.40,469.92 458.02,468.83 459.78,468.75" fill="#000000"/>
<polygon points="464.50,467.10 465.12,468.75 466.88,468.83 465.50,469.92 465.97,471.62 464.50,470.65 463.03,471.62 463.50,469.92 462.12,468.83 463.88,468.75" fill="#000000"/>
<polygon points="468.60,467.10 469.22,468.75 470.98,468.83 469.60,469.92 470.07,471.62 468.60,470.65 467.13,471.62 467.60,469.92 466.22,468.83 467.98,468.75" fill="#000000"/>
<polygon points="472.70,467.10 473.32,468.75 475.08,468.83 473.70,469.92 474.17,471.62 472.70,470.65 471.23,471.62 471.70,469.92 470.32,468.83 472.08,468.75" fill="#000000"/>
<polygon points="483.25,467.10 483.87,468.75 485.63,468.83 484.25,469.92 484.72,471.62 483.25,470.65 481.78,471.62 482.25,469.92 480.87,468.83 482.63,468.75" fill="#000000"/>
<polygon points="487.35,467.10 487.97,468.75 489.73,468.83 488.35,469.92 488.82,471.62 487.35,470.65 485.88,471.62 486.35,469.92 484.97,468.83 486.73,468.75" fill="#000000"/>
<polygon points="491.45,467.10 492.07,468.75 493.83,468.83 492.45,469.92 492.92,471.62 491.45,470.65 489.98,471.62 490.45,469.92 489.07,468.83 490.83,468.75" fill="#000000"/>
<polygon points="495.55,467.10 496.17,468.75 497.93,468.83 496.55,469.92 497.02,471.62 495.55,470.65 494.08,471.62 494.55,469.92 493.17,468.83 494.93,468.75" fill="#000000"/>
<polygon points="506.10,467.10 506.72,468.75 508.48,468.83 507.10,469.92 507.57,471.62 506.10,470.65 504.63,471.62 505.10,469.92 503.72,468.83 505.48,468.75" fill="#000000"/>
<polygon points="510.20,467.10 510.82,468.75 512.58,468.83 511.20,469.92 511.67,471.62 510.20,470.65 508.73,471.62 509.20,469.92 507.82,468.83 509.58,468.75" fill="#000000"/>
<polygon points="514.30,467.10 514.92,468.75 516.68,468.83 515.30,469.92 515.77,471.62 514.30,470.65 512.83,471.62 513.30,469.92 511.92,468.83 513.68,468.75" fill="#000000"/>
<polygon points="518.40,467.10 519.02,468.75 520.78,468.83 519.40,469.92 519.87,471.62 518.40,470.65 516.93,471.62 517.40,469.92 516.02,468.83 517.78,468.75" fill="#000000"/>
<polygon points="528.95,467.10 529.57,468.75 531.33,468.83 529.95,469.92 530.42,471.62 528.95,470.65 527.48,471.62 527.95,469.92 526.57,468.83 528.33,468.75" fill="#000000"/>
<polygon points="533.05,467.10 533.67,468.75 535.43,468.83 534.05,469.92 534.52,471.62 533.05,470.65 531.58,471.62 532.05,469.92 530.67,468.83 532.43,468.75" fill="#000000"/>
<polygon points="537.15,467.10 537.77,468.75 539.53,468.83 538.15,469.92 538.62,471.62 537.15,470.65 535.68,471.62 536.15,469.92 534.77,468.83 536.53,468.75" fill="#000000"/>
<polygon points="541.25,467.10 541.87,468.75 543.63,468.83 542.25,469.92 542.72,471.62 541.25,470.65 539.78,471.62 540.25,469.92 538.87,468.83 540.63,468.75" fill="#000000"/>
<polygon points="551.80,467.10 552.42,468.75 554.18,468.83 552.80,469.92 553.27,471.62 551.80,470.65 550.33,471.62 550.80,469.92 549.42,468.83 551.18,468.75" fill="#000000"/>
<polygon points="555.90,467.10 556.52,468.75 558.28,468.83 556.90,469.92 557.37,471.62 555.90,470.65 554.43,471.62 554.90,469.92 553.52,468.83 555.28,468.75" fill="#000000"/>
<polygon points="560.00,467.10 560.62,468.75 562.38,468.83 561.00,469.92 561.47,471.62 560.00,470.65 558.53,471.62 559.00,469.92 557.62,468.83 559.38,468.75" fill="#000000"/>
<polygon points="564.10,467.10 564.72,468.75 566.48,468.83 565.10,469.92 565.57,471.62 564.10,470.65 562.63,471.62 563.10,469.92 561.72,468.83 563.48,468.75" fill="#000000"/>
<polygon points="574.65,467.10 575.27,468.75 577.03,468.83 575.65,469.92 576.12,471.62 574.65,470.65 573.18,471.62 573.65,469.92 572.27,468.83 574.03,468.75" fill="#000000"/>
<polygon points="578.75,467.10 579.37,468.75 581.13,468.83 579.75,469.92 580.22,471.62 578.75,470.65 577.28,471.62 577.75,469.92 576.37,468.83 578.13,468.75" fill="#000000"/>
<polygon points="582.85,467.10 583.47,468.75 585.23,468.83 583.85,469.92 584.32,471.62 582.85,470.65 581.38,471.62 581.85,469.92 580.47,468.83 582.23,468.75" fill="#000000"/>
<polygon points="586.95,467.10 587.57,468.75 589.33,468.83 587.95,469.92 588.42,471.62 586.95,470.65 585.48,471.62 585.95,469.92 584.57,468.83 586.33,468.75" fill="#000000"/>
<text x="375.15" y="478.90" font-size="9" text-anchor="middle" font-weight="normal" fill="#A42CF4" >ns</text>
<text x="398.00" y="478.90" font-size="9" text-anchor="middle" font-weight="normal" fill="#A42CF4" >ns</text>
<polygon points="420.85,474.20 421.47,475.85 423.23,475.93 421.85,477.02 422.32,478.72 420.85,477.75 419.38,478.72 419.85,477.02 418.47,475.93 420.23,475.85" fill="#A42CF4"/>
<polygon points="443.70,474.20 444.32,475.85 446.08,475.93 444.70,477.02 445.17,478.72 443.70,477.75 442.23,478.72 442.70,477.02 441.32,475.93 443.08,475.85" fill="#A42CF4"/>
<polygon points="464.50,474.20 465.12,475.85 466.88,475.93 465.50,477.02 465.97,478.72 464.50,477.75 463.03,478.72 463.50,477.02 462.12,475.93 463.88,475.85" fill="#A42CF4"/>
<polygon points="468.60,474.20 469.22,475.85 470.98,475.93 469.60,477.02 470.07,478.72 468.60,477.75 467.13,478.72 467.60,477.02 466.22,475.93 467.98,475.85" fill="#A42CF4"/>
<polygon points="485.30,474.20 485.92,475.85 487.68,475.93 486.30,477.02 486.77,478.72 485.30,477.75 483.83,478.72 484.30,477.02 482.92,475.93 484.68,475.85" fill="#A42CF4"/>
<polygon points="489.40,474.20 490.02,475.85 491.78,475.93 490.40,477.02 490.87,478.72 489.40,477.75 487.93,478.72 488.40,477.02 487.02,475.93 488.78,475.85" fill="#A42CF4"/>
<polygon points="493.50,474.20 494.12,475.85 495.88,475.93 494.50,477.02 494.97,478.72 493.50,477.75 492.03,478.72 492.50,477.02 491.12,475.93 492.88,475.85" fill="#A42CF4"/>
<polygon points="506.10,474.20 506.72,475.85 508.48,475.93 507.10,477.02 507.57,478.72 506.10,477.75 504.63,478.72 505.10,477.02 503.72,475.93 505.48,475.85" fill="#A42CF4"/>
<polygon points="510.20,474.20 510.82,475.85 512.58,475.93 511.20,477.02 511.67,478.72 510.20,477.75 508.73,478.72 509.20,477.02 507.82,475.93 509.58,475.85" fill="#A42CF4"/>
<polygon points="514.30,474.20 514.92,475.85 516.68,475.93 515.30,477.02 515.77,478.72 514.30,477.75 512.83,478.72 513.30,477.02 511.92,475.93 513.68,475.85" fill="#A42CF4"/>
<polygon points="518.40,474.20 519.02,475.85 520.78,475.93 519.40,477.02 519.87,478.72 518.40,477.75 516.93,478.72 517.40,477.02 516.02,475.93 517.78,475.85" fill="#A42CF4"/>
<polygon points="531.00,474.20 531.62,475.85 533.38,475.93 532.00,477.02 532.47,478.72 531.00,477.75 529.53,478.72 530.00,477.02 528.62,475.93 530.38,475.85" fill="#A42CF4"/>
<polygon points="535.10,474.20 535.72,475.85 537.48,475.93 536.10,477.02 536.57,478.72 535.10,477.75 533.63,478.72 534.10,477.02 532.72,475.93 534.48,475.85" fill="#A42CF4"/>
<polygon points="539.20,474.20 539.82,475.85 541.58,475.93 540.20,477.02 540.67,478.72 539.20,477.75 537.73,478.72 538.20,477.02 536.82,475.93 538.58,475.85" fill="#A42CF4"/>
<polygon points="555.90,474.20 556.52,475.85 558.28,475.93 556.90,477.02 557.37,478.72 555.90,477.75 554.43,478.72 554.90,477.02 553.52,475.93 555.28,475.85" fill="#A42CF4"/>
<polygon points="560.00,474.20 560.62,475.85 562.38,475.93 561.00,477.02 561.47,478.72 560.00,477.75 558.53,478.72 559.00,477.02 557.62,475.93 559.38,475.85" fill="#A42CF4"/>
<text x="580.80" y="478.90" font-size="9" text-anchor="middle" font-weight="normal" fill="#A42CF4" >ns</text>
<text x="375.15" y="486.70" font-size="9" text-anchor="middle" font-weight="normal" fill="#EE922E" >ns</text>
<text x="398.00" y="486.70" font-size="9" text-anchor="middle" font-weight="normal" fill="#EE922E" >ns</text>
<text x="420.85" y="486.70" font-size="9" text-anchor="middle" font-weight="normal" fill="#EE922E" >ns</text>
<polygon points="441.65,482.00 442.27,483.65 444.03,483.73 442.65,484.82 443.12,486.52 441.65,485.55 440.18,486.52 440.65,484.82 439.27,483.73 441.03,483.65" fill="#EE922E"/>
<polygon points="445.75,482.00 446.37,483.65 448.13,483.73 446.75,484.82 447.22,486.52 445.75,485.55 444.28,486.52 444.75,484.82 443.37,483.73 445.13,483.65" fill="#EE922E"/>
<polygon points="464.50,482.00 465.12,483.65 466.88,483.73 465.50,484.82 465.97,486.52 464.50,485.55 463.03,486.52 463.50,484.82 462.12,483.73 463.88,483.65" fill="#EE922E"/>
<polygon points="468.60,482.00 469.22,483.65 470.98,483.73 469.60,484.82 470.07,486.52 468.60,485.55 467.13,486.52 467.60,484.82 466.22,483.73 467.98,483.65" fill="#EE922E"/>
<polygon points="483.25,482.00 483.87,483.65 485.63,483.73 484.25,484.82 484.72,486.52 483.25,485.55 481.78,486.52 482.25,484.82 480.87,483.73 482.63,483.65" fill="#EE922E"/>
<polygon points="487.35,482.00 487.97,483.65 489.73,483.73 488.35,484.82 488.82,486.52 487.35,485.55 485.88,486.52 486.35,484.82 484.97,483.73 486.73,483.65" fill="#EE922E"/>
<polygon points="491.45,482.00 492.07,483.65 493.83,483.73 492.45,484.82 492.92,486.52 491.45,485.55 489.98,486.52 490.45,484.82 489.07,483.73 490.83,483.65" fill="#EE922E"/>
<polygon points="495.55,482.00 496.17,483.65 497.93,483.73 496.55,484.82 497.02,486.52 495.55,485.55 494.08,486.52 494.55,484.82 493.17,483.73 494.93,483.65" fill="#EE922E"/>
<polygon points="506.10,482.00 506.72,483.65 508.48,483.73 507.10,484.82 507.57,486.52 506.10,485.55 504.63,486.52 505.10,484.82 503.72,483.73 505.48,483.65" fill="#EE922E"/>
<polygon points="510.20,482.00 510.82,483.65 512.58,483.73 511.20,484.82 511.67,486.52 510.20,485.55 508.73,486.52 509.20,484.82 507.82,483.73 509.58,483.65" fill="#EE922E"/>
<polygon points="514.30,482.00 514.92,483.65 516.68,483.73 515.30,484.82 515.77,486.52 514.30,485.55 512.83,486.52 513.30,484.82 511.92,483.73 513.68,483.65" fill="#EE922E"/>
<polygon points="518.40,482.00 519.02,483.65 520.78,483.73 519.40,484.82 519.87,486.52 518.40,485.55 516.93,486.52 517.40,484.82 516.02,483.73 517.78,483.65" fill="#EE922E"/>
<polygon points="528.95,482.00 529.57,483.65 531.33,483.73 529.95,484.82 530.42,486.52 528.95,485.55 527.48,486.52 527.95,484.82 526.57,483.73 528.33,483.65" fill="#EE922E"/>
<polygon points="533.05,482.00 533.67,483.65 535.43,483.73 534.05,484.82 534.52,486.52 533.05,485.55 531.58,486.52 532.05,484.82 530.67,483.73 532.43,483.65" fill="#EE922E"/>
<polygon points="537.15,482.00 537.77,483.65 539.53,483.73 538.15,484.82 538.62,486.52 537.15,485.55 535.68,486.52 536.15,484.82 534.77,483.73 536.53,483.65" fill="#EE922E"/>
<polygon points="541.25,482.00 541.87,483.65 543.63,483.73 542.25,484.82 542.72,486.52 541.25,485.55 539.78,486.52 540.25,484.82 538.87,483.73 540.63,483.65" fill="#EE922E"/>
<polygon points="551.80,482.00 552.42,483.65 554.18,483.73 552.80,484.82 553.27,486.52 551.80,485.55 550.33,486.52 550.80,484.82 549.42,483.73 551.18,483.65" fill="#EE922E"/>
<polygon points="555.90,482.00 556.52,483.65 558.28,483.73 556.90,484.82 557.37,486.52 555.90,485.55 554.43,486.52 554.90,484.82 553.52,483.73 555.28,483.65" fill="#EE922E"/>
<polygon points="560.00,482.00 560.62,483.65 562.38,483.73 561.00,484.82 561.47,486.52 560.00,485.55 558.53,486.52 559.00,484.82 557.62,483.73 559.38,483.65" fill="#EE922E"/>
<polygon points="564.10,482.00 564.72,483.65 566.48,483.73 565.10,484.82 565.57,486.52 564.10,485.55 562.63,486.52 563.10,484.82 561.72,483.73 563.48,483.65" fill="#EE922E"/>
<polygon points="578.75,482.00 579.37,483.65 581.13,483.73 579.75,484.82 580.22,486.52 578.75,485.55 577.28,486.52 577.75,484.82 576.37,483.73 578.13,483.65" fill="#EE922E"/>
<polygon points="582.85,482.00 583.47,483.65 585.23,483.73 583.85,484.82 584.32,486.52 582.85,485.55 581.38,486.52 581.85,484.82 580.47,483.73 582.23,483.65" fill="#EE922E"/>
<circle cx="605.70" cy="480.60" r="3.2" fill="#000000"/>
<text x="613.20" y="483.60" font-size="13.4">sham</text>
<circle cx="605.70" cy="496.10" r="3.2" fill="#A42CF4"/>
<text x="613.20" y="500.10" font-size="13.4">Hla<tspan font-size="10" dy="3.5">H</tspan></text>
<circle cx="605.70" cy="511.60" r="3.2" fill="#EE922E"/>
<text x="613.20" y="516.60" font-size="13.4">Hla<tspan font-size="10" dy="3.5">HDY</tspan></text>
<circle cx="605.70" cy="527.10" r="3.2" fill="#58A8F6"/>
<text x="613.20" y="533.10" font-size="13.4">Hla<tspan font-size="10" dy="3.5">HRE</tspan></text>
<text x="2.50" y="698.00" font-size="16.5" text-anchor="start" font-weight="bold" fill="#000" >d</text>
<line x1="64.30" y1="702.20" x2="64.30" y2="834.60" stroke="#000" stroke-width="1.8" />
<line x1="59.30" y1="702.00" x2="64.30" y2="702.00" stroke="#000" stroke-width="1.6" />
<text x="55.90" y="706.90" font-size="13.6" text-anchor="end" font-weight="normal" fill="#000" >1000</text>
<line x1="59.30" y1="735.00" x2="64.30" y2="735.00" stroke="#000" stroke-width="1.6" />
<text x="55.90" y="739.90" font-size="13.6" text-anchor="end" font-weight="normal" fill="#000" >100</text>
<line x1="59.30" y1="768.00" x2="64.30" y2="768.00" stroke="#000" stroke-width="1.6" />
<text x="55.90" y="772.90" font-size="13.6" text-anchor="end" font-weight="normal" fill="#000" >10</text>
<line x1="59.30" y1="801.00" x2="64.30" y2="801.00" stroke="#000" stroke-width="1.6" />
<text x="55.90" y="805.90" font-size="13.6" text-anchor="end" font-weight="normal" fill="#000" >1</text>
<line x1="59.30" y1="833.70" x2="64.30" y2="833.70" stroke="#000" stroke-width="1.6" />
<text x="55.90" y="838.60" font-size="13.6" text-anchor="end" font-weight="normal" fill="#000" >0.1</text>
<line x1="63.40" y1="833.70" x2="406.50" y2="833.70" stroke="#000" stroke-width="1.8" />
<line x1="150.50" y1="698.00" x2="150.50" y2="833.70" stroke="#404040" stroke-width="1.2" />
<line x1="235.60" y1="698.00" x2="235.60" y2="833.70" stroke="#404040" stroke-width="1.2" />
<line x1="318.30" y1="698.00" x2="318.30" y2="833.70" stroke="#404040" stroke-width="1.2" />
<line x1="406.30" y1="698.00" x2="406.30" y2="833.70" stroke="#404040" stroke-width="1.2" />
<line x1="65.3" y1="827.3" x2="406" y2="827.3" stroke="#000" stroke-width="1" stroke-dasharray="1.6,2"/>
<text transform="translate(13.3,777.5) rotate(-90)" font-size="13.9" text-anchor="middle">Serum dilution</text>
<text transform="translate(28.9,778.3) rotate(-90)" font-size="13.9" text-anchor="middle">at IC50</text>
<circle cx="73.60" cy="827.3" r="2.85" fill="#000000"/>
<circle cx="75.80" cy="827.3" r="2.85" fill="#000000"/>
<circle cx="78.00" cy="827.3" r="2.85" fill="#000000"/>
<circle cx="80.20" cy="827.3" r="2.85" fill="#000000"/>
<circle cx="82.40" cy="827.3" r="2.85" fill="#000000"/>
<circle cx="115.90" cy="827.3" r="2.85" fill="#EE922E"/>
<circle cx="118.10" cy="827.3" r="2.85" fill="#EE922E"/>
<circle cx="120.30" cy="827.3" r="2.85" fill="#EE922E"/>
<circle cx="122.50" cy="827.3" r="2.85" fill="#EE922E"/>
<circle cx="124.70" cy="827.3" r="2.85" fill="#EE922E"/>
<line x1="114.10" y1="827.30" x2="126.50" y2="827.30" stroke="#000" stroke-width="1.6" stroke-opacity="0.85"/>
<line x1="91.20" y1="701.00" x2="142.60" y2="701.00" stroke="#3c3c3c" stroke-width="1.3" />
<polygon points="114.70,693.00 115.34,694.72 117.17,694.80 115.74,695.94 116.23,697.70 114.70,696.69 113.17,697.70 113.66,695.94 112.23,694.80 114.06,694.72" fill="#000"/>
<polygon points="119.10,693.00 119.74,694.72 121.57,694.80 120.14,695.94 120.63,697.70 119.10,696.69 117.57,697.70 118.06,695.94 116.63,694.80 118.46,694.72" fill="#000"/>
<text x="105.70" y="854.20" font-size="13.6" text-anchor="middle" font-weight="normal" fill="#000" >Alum</text>
<circle cx="157.60" cy="827.3" r="2.85" fill="#000000"/>
<circle cx="159.80" cy="827.3" r="2.85" fill="#000000"/>
<circle cx="162.00" cy="827.3" r="2.85" fill="#000000"/>
<circle cx="164.20" cy="827.3" r="2.85" fill="#000000"/>
<circle cx="166.40" cy="827.3" r="2.85" fill="#000000"/>
<circle cx="199.40" cy="827.3" r="2.85" fill="#EE922E"/>
<circle cx="201.60" cy="827.3" r="2.85" fill="#EE922E"/>
<circle cx="203.80" cy="827.3" r="2.85" fill="#EE922E"/>
<circle cx="206.00" cy="827.3" r="2.85" fill="#EE922E"/>
<circle cx="208.20" cy="827.3" r="2.85" fill="#EE922E"/>
<line x1="197.60" y1="827.30" x2="210.00" y2="827.30" stroke="#000" stroke-width="1.6" stroke-opacity="0.85"/>
<line x1="174.50" y1="701.00" x2="225.50" y2="701.00" stroke="#3c3c3c" stroke-width="1.3" />
<polygon points="197.80,693.00 198.44,694.72 200.27,694.80 198.84,695.94 199.33,697.70 197.80,696.69 196.27,697.70 196.76,695.94 195.33,694.80 197.16,694.72" fill="#000"/>
<polygon points="202.20,693.00 202.84,694.72 204.67,694.80 203.24,695.94 203.73,697.70 202.20,696.69 200.67,697.70 201.16,695.94 199.73,694.80 201.56,694.72" fill="#000"/>
<text x="194.30" y="854.20" font-size="13.6" text-anchor="middle" font-weight="normal" fill="#000" >AddaS03</text>
<text x="194.30" y="870.10" font-size="13.6" text-anchor="middle" font-weight="normal" fill="#000" >(AS03-like)</text>
<circle cx="241.60" cy="827.3" r="2.85" fill="#000000"/>
<circle cx="243.80" cy="827.3" r="2.85" fill="#000000"/>
<circle cx="246.00" cy="827.3" r="2.85" fill="#000000"/>
<circle cx="248.20" cy="827.3" r="2.85" fill="#000000"/>
<circle cx="250.40" cy="827.3" r="2.85" fill="#000000"/>
<circle cx="282.70" cy="827.3" r="2.85" fill="#EE922E"/>
<circle cx="284.90" cy="827.3" r="2.85" fill="#EE922E"/>
<circle cx="287.10" cy="827.3" r="2.85" fill="#EE922E"/>
<circle cx="289.30" cy="827.3" r="2.85" fill="#EE922E"/>
<circle cx="291.50" cy="827.3" r="2.85" fill="#EE922E"/>
<line x1="280.90" y1="827.30" x2="293.30" y2="827.30" stroke="#000" stroke-width="1.6" stroke-opacity="0.85"/>
<line x1="260.90" y1="701.00" x2="311.30" y2="701.00" stroke="#3c3c3c" stroke-width="1.3" />
<polygon points="283.90,693.00 284.54,694.72 286.37,694.80 284.94,695.94 285.43,697.70 283.90,696.69 282.37,697.70 282.86,695.94 281.43,694.80 283.26,694.72" fill="#000"/>
<polygon points="288.30,693.00 288.94,694.72 290.77,694.80 289.34,695.94 289.83,697.70 288.30,696.69 286.77,697.70 287.26,695.94 285.83,694.80 287.66,694.72" fill="#000"/>
<text x="282.70" y="854.20" font-size="13.6" text-anchor="middle" font-weight="normal" fill="#000" >MPLA+Alum</text>
<text x="282.70" y="870.10" font-size="13.6" text-anchor="middle" font-weight="normal" fill="#000" >(AS04-like)</text>
<circle cx="324.30" cy="827.3" r="2.85" fill="#000000"/>
<circle cx="326.50" cy="827.3" r="2.85" fill="#000000"/>
<circle cx="328.70" cy="827.3" r="2.85" fill="#000000"/>
<circle cx="330.90" cy="827.3" r="2.85" fill="#000000"/>
<circle cx="333.10" cy="827.3" r="2.85" fill="#000000"/>
<circle cx="366.60" cy="827.3" r="2.85" fill="#EE922E"/>
<circle cx="368.80" cy="827.3" r="2.85" fill="#EE922E"/>
<circle cx="371.00" cy="827.3" r="2.85" fill="#EE922E"/>
<circle cx="373.20" cy="827.3" r="2.85" fill="#EE922E"/>
<circle cx="375.40" cy="827.3" r="2.85" fill="#EE922E"/>
<line x1="364.80" y1="827.30" x2="377.20" y2="827.30" stroke="#000" stroke-width="1.6" stroke-opacity="0.85"/>
<line x1="344.20" y1="701.00" x2="395.20" y2="701.00" stroke="#3c3c3c" stroke-width="1.3" />
<polygon points="367.50,693.00 368.14,694.72 369.97,694.80 368.54,695.94 369.03,697.70 367.50,696.69 365.97,697.70 366.46,695.94 365.03,694.80 366.86,694.72" fill="#000"/>
<polygon points="371.90,693.00 372.54,694.72 374.37,694.80 372.94,695.94 373.43,697.70 371.90,696.69 370.37,697.70 370.86,695.94 369.43,694.80 371.26,694.72" fill="#000"/>
<text x="367.00" y="854.20" font-size="13.6" text-anchor="middle" font-weight="normal" fill="#000" >CpG-ODN</text>
<text x="367.00" y="870.10" font-size="13.6" text-anchor="middle" font-weight="normal" fill="#000" >1585</text>
<circle cx="94.60" cy="827.3" r="2.85" fill="#A42CF4"/>
<circle cx="96.80" cy="827.3" r="2.85" fill="#A42CF4"/>
<circle cx="99.00" cy="827.3" r="2.85" fill="#A42CF4"/>
<circle cx="101.20" cy="827.3" r="2.85" fill="#A42CF4"/>
<circle cx="103.40" cy="827.3" r="2.85" fill="#A42CF4"/>
<circle cx="261.80" cy="827.3" r="2.85" fill="#A42CF4"/>
<circle cx="264.00" cy="827.3" r="2.85" fill="#A42CF4"/>
<circle cx="266.20" cy="827.3" r="2.85" fill="#A42CF4"/>
<circle cx="268.40" cy="827.3" r="2.85" fill="#A42CF4"/>
<circle cx="270.60" cy="827.3" r="2.85" fill="#A42CF4"/>
<circle cx="345.60" cy="827.3" r="2.85" fill="#A42CF4"/>
<circle cx="347.80" cy="827.3" r="2.85" fill="#A42CF4"/>
<circle cx="350.00" cy="827.3" r="2.85" fill="#A42CF4"/>
<circle cx="352.20" cy="827.3" r="2.85" fill="#A42CF4"/>
<circle cx="354.40" cy="827.3" r="2.85" fill="#A42CF4"/>
<circle cx="98.8" cy="778.4" r="2.9" fill="#A42CF4"/>
<circle cx="266.3" cy="775.8" r="2.9" fill="#A42CF4"/>
<circle cx="349.2" cy="765.7" r="2.9" fill="#A42CF4"/>
<line x1="177.50" y1="767.60" x2="188.50" y2="767.60" stroke="#000" stroke-width="1.4" />
<line x1="136.50" y1="739.90" x2="145.30" y2="739.90" stroke="#000" stroke-width="1.4" />
<line x1="217.50" y1="719.10" x2="229.50" y2="719.10" stroke="#000" stroke-width="1.4" />
<line x1="301.80" y1="734.50" x2="314.00" y2="734.50" stroke="#000" stroke-width="1.4" />
<line x1="384.80" y1="748.20" x2="391.00" y2="748.20" stroke="#000" stroke-width="1.4" />
<circle cx="182.6" cy="751.2" r="2.9" fill="#A42CF4"/>
<circle cx="182.6" cy="762" r="2.9" fill="#A42CF4"/>
<circle cx="182.6" cy="767.6" r="2.9" fill="#A42CF4"/>
<circle cx="178.5" cy="782.5" r="2.9" fill="#A42CF4"/>
<circle cx="187" cy="778.1" r="2.9" fill="#A42CF4"/>
<circle cx="140.9" cy="725.3" r="2.9" fill="#58A8F6"/>
<circle cx="140.9" cy="734.3" r="2.9" fill="#58A8F6"/>
<circle cx="136.5" cy="739.9" r="2.9" fill="#58A8F6"/>
<circle cx="145.3" cy="739.9" r="2.9" fill="#58A8F6"/>
<circle cx="140.9" cy="745.4" r="2.9" fill="#58A8F6"/>
<circle cx="224.4" cy="708.6" r="2.9" fill="#58A8F6"/>
<circle cx="220" cy="719.1" r="2.9" fill="#58A8F6"/>
<circle cx="228.8" cy="719.1" r="2.9" fill="#58A8F6"/>
<circle cx="224.4" cy="724.7" r="2.9" fill="#58A8F6"/>
<circle cx="224.4" cy="734" r="2.9" fill="#58A8F6"/>
<circle cx="303.9" cy="726.4" r="2.9" fill="#58A8F6"/>
<circle cx="312.3" cy="727.8" r="2.9" fill="#58A8F6"/>
<circle cx="307.9" cy="734.5" r="2.9" fill="#58A8F6"/>
<circle cx="307.9" cy="739.8" r="2.9" fill="#58A8F6"/>
<circle cx="307.9" cy="754.6" r="2.9" fill="#58A8F6"/>
<circle cx="386.8" cy="743.9" r="2.9" fill="#58A8F6"/>
<circle cx="391.2" cy="748.2" r="2.9" fill="#58A8F6"/>
<circle cx="395.5" cy="748.2" r="2.9" fill="#58A8F6"/>
<circle cx="391.2" cy="767.4" r="2.9" fill="#58A8F6"/>
<circle cx="427.90" cy="707.30" r="2.7" fill="#000000"/>
<text x="433.70" y="709.50" font-size="13.3">sham</text>
<circle cx="427.90" cy="720.93" r="2.7" fill="#A42CF4"/>
<text x="433.70" y="723.90" font-size="13.3">Hla<tspan font-size="9.5" dy="3.6">H</tspan></text>
<circle cx="427.90" cy="734.56" r="2.7" fill="#EE922E"/>
<text x="433.70" y="738.30" font-size="13.3">Hla<tspan font-size="9.5" dy="3.6">HDY</tspan></text>
<circle cx="427.90" cy="748.19" r="2.7" fill="#58A8F6"/>
<text x="433.70" y="752.70" font-size="13.3">Hla<tspan font-size="9.5" dy="3.6">HRE</tspan></text>
<text x="2.50" y="897.00" font-size="16.5" text-anchor="start" font-weight="bold" fill="#000" >e</text>
<ellipse cx="64.3" cy="1004.5" rx="9.9" ry="20.5" fill="#F5DFB3" stroke="#EBA23C" stroke-width="1.6"/>
<ellipse cx="0" cy="0" rx="56.2" ry="22.9" transform="translate(133.6,981.8) rotate(-53.2)" fill="#DBC2FA" stroke="#A94FF5" stroke-width="1.5"/>
<ellipse cx="0" cy="0" rx="44.8" ry="65.3" transform="translate(218.9,969) rotate(-10)" fill="#BAE4FA" stroke="#5DB5FA" stroke-width="1.6"/>
<line x1="53.20" y1="901.60" x2="53.20" y2="1059.80" stroke="#000" stroke-width="1.8" />
<line x1="47.20" y1="1027.40" x2="53.20" y2="1027.40" stroke="#000" stroke-width="1.6" />
<text x="42.70" y="1032.30" font-size="13.6" text-anchor="end" font-weight="normal" fill="#000" >0.2</text>
<line x1="47.20" y1="995.90" x2="53.20" y2="995.90" stroke="#000" stroke-width="1.6" />
<text x="42.70" y="1000.80" font-size="13.6" text-anchor="end" font-weight="normal" fill="#000" >0.4</text>
<line x1="47.20" y1="964.40" x2="53.20" y2="964.40" stroke="#000" stroke-width="1.6" />
<text x="42.70" y="969.30" font-size="13.6" text-anchor="end" font-weight="normal" fill="#000" >0.6</text>
<line x1="47.20" y1="932.90" x2="53.20" y2="932.90" stroke="#000" stroke-width="1.6" />
<text x="42.70" y="937.80" font-size="13.6" text-anchor="end" font-weight="normal" fill="#000" >0.8</text>
<line x1="47.20" y1="901.40" x2="53.20" y2="901.40" stroke="#000" stroke-width="1.6" />
<text x="42.70" y="906.30" font-size="13.6" text-anchor="end" font-weight="normal" fill="#000" >1.0</text>
<line x1="52.30" y1="1058.90" x2="263.50" y2="1058.90" stroke="#000" stroke-width="1.8" />
<line x1="53.20" y1="1058.90" x2="53.20" y2="1065.40" stroke="#000" stroke-width="1.6" />
<text x="53.20" y="1081.50" font-size="13.6" text-anchor="middle" font-weight="normal" fill="#000" >0.1</text>
<line x1="105.55" y1="1058.90" x2="105.55" y2="1065.40" stroke="#000" stroke-width="1.6" />
<text x="105.55" y="1081.50" font-size="13.6" text-anchor="middle" font-weight="normal" fill="#000" >1</text>
<line x1="157.90" y1="1058.90" x2="157.90" y2="1065.40" stroke="#000" stroke-width="1.6" />
<text x="157.90" y="1081.50" font-size="13.6" text-anchor="middle" font-weight="normal" fill="#000" >10</text>
<line x1="210.25" y1="1058.90" x2="210.25" y2="1065.40" stroke="#000" stroke-width="1.6" />
<text x="210.25" y="1081.50" font-size="13.6" text-anchor="middle" font-weight="normal" fill="#000" >100</text>
<line x1="262.60" y1="1058.90" x2="262.60" y2="1065.40" stroke="#000" stroke-width="1.6" />
<text x="263.40" y="1081.50" font-size="13.6" text-anchor="middle" font-weight="normal" fill="#000" >1000</text>
<text x="150.70" y="1104.00" font-size="13.6" text-anchor="middle" font-weight="normal" fill="#000" >Serum dilution at IC50</text>
<text transform="translate(11.9,980.1) rotate(-90)" font-size="13.9" text-anchor="middle">Absorbance (OD450)</text>
<polygon points="64.10,985.43 67.80,989.50 64.10,993.57 60.40,989.50" fill="#000"/>
<circle cx="64.1" cy="1000.6" r="3.40" fill="#000"/>
<rect x="60.50" y="1000.60" width="7.20" height="7.20" fill="#000"/>
<polygon points="64.10,1012.90 68.09,1019.74 60.11,1019.74" fill="#000"/>
<circle cx="107.3" cy="1022.4" r="3.40" fill="#000"/>
<polygon points="112.10,976.90 116.09,983.74 108.11,983.74" fill="#000"/>
<polygon points="126.10,957.43 129.80,961.50 126.10,965.57 122.40,961.50" fill="#000"/>
<rect x="161.10" y="938.60" width="7.20" height="7.20" fill="#000"/>
<polygon points="187.00,923.23 190.70,927.30 187.00,931.37 183.30,927.30" fill="#000"/>
<rect x="233.40" y="920.20" width="7.20" height="7.20" fill="#000"/>
<polygon points="212.90,968.20 216.89,975.04 208.91,975.04" fill="#000"/>
<circle cx="210.2" cy="1024.5" r="3.40" fill="#000"/>
<text x="57" y="1051" font-size="14" font-weight="bold">Hla<tspan font-size="10.2" dy="4">HDY</tspan></text>
<text x="132.5" y="1051" font-size="14" font-weight="bold">Hla<tspan font-size="10.2" dy="4">H</tspan></text>
<text x="228" y="1051" font-size="14" font-weight="bold">Hla<tspan font-size="10.2" dy="4">HRE</tspan></text>
<circle cx="280.6" cy="930.8" r="3.30" fill="#000"/>
<text x="288.50" y="935.60" font-size="13.7" text-anchor="start" font-weight="normal" fill="#000" >Alum</text>
<rect x="277.11" y="945.31" width="6.98" height="6.98" fill="#000"/>
<text x="288.50" y="953.60" font-size="13.7" text-anchor="start" font-weight="normal" fill="#000" >AddaS03 (AS03-like)</text>
<polygon points="280.60,963.71 284.47,970.35 276.73,970.35" fill="#000"/>
<text x="288.50" y="972.20" font-size="13.7" text-anchor="start" font-weight="normal" fill="#000" >MPLA+Alum (AS04-like)</text>
<polygon points="280.60,981.15 284.19,985.10 280.60,989.05 277.01,985.10" fill="#000"/>
<text x="288.50" y="989.90" font-size="13.7" text-anchor="start" font-weight="normal" fill="#000" >CpG-ODN1585</text>
</svg></body></html>
